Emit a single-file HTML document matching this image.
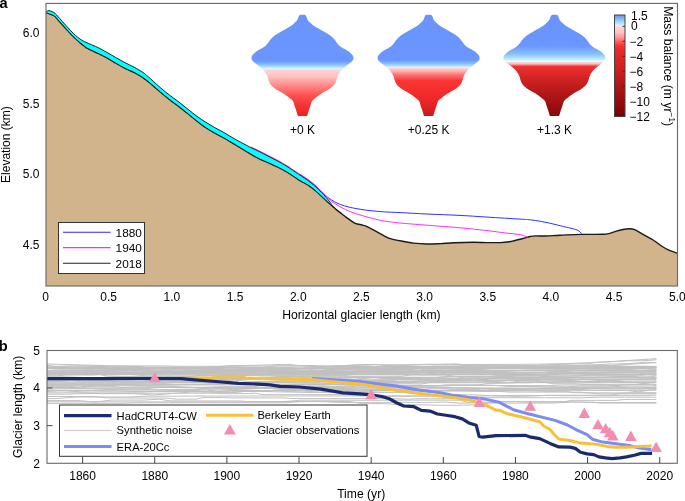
<!DOCTYPE html><html><head><meta charset="utf-8"><style>html,body{margin:0;padding:0;background:#fff;overflow:hidden}svg{display:block;will-change:transform;font-family:"Liberation Sans",sans-serif}</style></head><body>
<svg width="685" height="501" viewBox="0 0 685 501">
<defs><linearGradient id="g1" gradientUnits="userSpaceOnUse" x1="0" y1="14" x2="0" y2="116"><stop offset="0.0000" stop-color="#6a94fc"/><stop offset="0.4608" stop-color="#6a96ff"/><stop offset="0.5000" stop-color="#8cc4fc"/><stop offset="0.5343" stop-color="#d2f6ff"/><stop offset="0.5431" stop-color="#e8faff"/><stop offset="0.5451" stop-color="#ffd2d2"/><stop offset="0.6029" stop-color="#ffc6c6"/><stop offset="0.6961" stop-color="#ff8c8c"/><stop offset="0.7941" stop-color="#ff5252"/><stop offset="0.8922" stop-color="#f43434"/><stop offset="1.0000" stop-color="#ee2222"/></linearGradient><linearGradient id="g2" gradientUnits="userSpaceOnUse" x1="0" y1="14" x2="0" y2="116"><stop offset="0.0000" stop-color="#6a94fc"/><stop offset="0.4510" stop-color="#6a96ff"/><stop offset="0.4902" stop-color="#8cc4fc"/><stop offset="0.5235" stop-color="#d2f6ff"/><stop offset="0.5314" stop-color="#e8faff"/><stop offset="0.5333" stop-color="#ffd2d2"/><stop offset="0.5588" stop-color="#ffb0b0"/><stop offset="0.5980" stop-color="#ff7070"/><stop offset="0.6569" stop-color="#fb3434"/><stop offset="0.8333" stop-color="#ee2828"/><stop offset="0.9314" stop-color="#da2020"/><stop offset="1.0000" stop-color="#c81a1a"/></linearGradient><linearGradient id="g3" gradientUnits="userSpaceOnUse" x1="0" y1="14" x2="0" y2="116"><stop offset="0.0000" stop-color="#6a94fc"/><stop offset="0.3137" stop-color="#6a96ff"/><stop offset="0.3922" stop-color="#88c0f8"/><stop offset="0.4461" stop-color="#c0f0ff"/><stop offset="0.4657" stop-color="#eefaff"/><stop offset="0.4706" stop-color="#ffd8d8"/><stop offset="0.4882" stop-color="#ffbcbc"/><stop offset="0.5147" stop-color="#f03232"/><stop offset="0.6176" stop-color="#d42424"/><stop offset="0.7451" stop-color="#b81a1a"/><stop offset="0.8627" stop-color="#a21212"/><stop offset="1.0000" stop-color="#880808"/></linearGradient><linearGradient id="gcb" x1="0" y1="0" x2="0" y2="1"><stop offset="0" stop-color="#6a8ef2"/><stop offset="0.05" stop-color="#8ec8f8"/><stop offset="0.09" stop-color="#b8eeff"/><stop offset="0.111" stop-color="#eaf8ff"/><stop offset="0.113" stop-color="#ffd4d4"/><stop offset="0.17" stop-color="#ffc6c6"/><stop offset="0.22" stop-color="#ff9696"/><stop offset="0.26" stop-color="#ff6262"/><stop offset="0.3" stop-color="#ff3232"/><stop offset="0.34" stop-color="#f02828"/><stop offset="0.48" stop-color="#dc2020"/><stop offset="0.63" stop-color="#c01818"/><stop offset="0.78" stop-color="#a21010"/><stop offset="0.9" stop-color="#900808"/><stop offset="1" stop-color="#780000"/></linearGradient></defs>
<rect width="685" height="501" fill="#fff"/>
<path d="M46,12.7 C46.33,12.82 47.33,13.17 48,13.4 C48.67,13.63 49.17,13.8 50,14.1 C50.83,14.4 52.23,14.88 53,15.2 C53.77,15.52 54.1,15.62 54.6,16 C55.1,16.38 55.52,16.95 56,17.5 C56.48,18.05 56.5,18.17 57.5,19.3 C58.5,20.43 60.52,22.65 62,24.3 C63.48,25.95 64.92,27.57 66.4,29.2 C67.88,30.83 69.4,32.53 70.9,34.1 C72.4,35.67 73.9,37.18 75.4,38.6 C76.9,40.02 78.4,41.35 79.9,42.6 C81.4,43.85 83.05,45.1 84.4,46.1 C85.75,47.1 85.73,47.4 88,48.6 C90.27,49.8 94.83,51.77 98,53.3 C101.17,54.83 104.02,56.15 107,57.8 C109.98,59.45 112.9,61.45 115.9,63.2 C118.9,64.95 121.98,66.78 125,68.3 C128.02,69.82 131,70.75 134,72.3 C137,73.85 140.02,75.55 143,77.6 C145.98,79.65 148.92,82.12 151.9,84.6 C154.88,87.08 157.88,89.95 160.9,92.5 C163.92,95.05 166.98,97.55 170,99.9 C173.02,102.25 176,104.28 179,106.6 C182,108.92 185.02,111.4 188,113.8 C190.98,116.2 193.92,118.68 196.9,121 C199.88,123.32 202.9,125.68 205.9,127.7 C208.9,129.72 211.88,131.38 214.9,133.1 C217.92,134.82 220.98,136.3 224,138 C227.02,139.7 230.02,141.52 233,143.3 C235.98,145.08 238.92,146.9 241.9,148.7 C244.88,150.5 247.9,152.37 250.9,154.1 C253.9,155.83 256.88,157.62 259.9,159.1 C262.92,160.58 265.98,161.65 269,163 C272.02,164.35 275.02,165.7 278,167.2 C280.98,168.7 283.92,170.23 286.9,172 C289.88,173.77 293.72,176.37 295.9,177.8 C298.08,179.23 297.65,179.18 300,180.6 C302.35,182.02 307,184.25 310,186.3 C313,188.35 315.67,190.85 318,192.9 C320.33,194.95 322,196.73 324,198.6 C326,200.47 328.5,202.77 330,204.1 C331.5,205.43 332,205.72 333,206.6 C334,207.48 334.5,208.17 336,209.4 C337.5,210.63 340.33,212.72 342,214 C343.67,215.28 344.75,216.17 346,217.1 C347.25,218.03 347.95,218.57 349.5,219.6 C351.05,220.63 353.13,222.38 355.3,223.3 C357.47,224.22 360.55,224.55 362.5,225.1 C364.45,225.65 364.75,225.55 367,226.6 C369.25,227.65 373.02,229.78 376,231.4 C378.98,233.02 382.52,235.1 384.9,236.3 C387.28,237.5 387.95,237.88 390.3,238.6 C392.65,239.32 395.13,239.85 399,240.6 C402.87,241.35 408.83,242.53 413.5,243.1 C418.17,243.67 422.52,243.92 427,244 C431.48,244.08 435.92,243.8 440.4,243.6 C444.88,243.4 448.38,243.02 453.9,242.8 C459.42,242.58 467.98,242.33 473.5,242.3 C479.02,242.27 482.52,242.55 487,242.6 C491.48,242.65 496.67,242.73 500.4,242.6 C504.13,242.47 507.15,242.1 509.4,241.8 C511.65,241.5 512.13,241.22 513.9,240.8 C515.67,240.38 518.13,239.8 520,239.3 C521.87,238.8 523.4,238.27 525.1,237.8 C526.8,237.33 528.5,236.82 530.2,236.5 C531.9,236.18 532.75,235.98 535.3,235.9 C537.85,235.82 542.08,236.07 545.5,236 C548.92,235.93 552.38,235.68 555.8,235.5 C559.22,235.32 561.75,235.08 566,234.9 C570.25,234.72 575.12,234.5 581.3,234.4 C587.48,234.3 598.37,234.47 603.1,234.3 C607.83,234.13 607.5,233.93 609.7,233.4 C611.9,232.87 614.1,231.75 616.3,231.1 C618.5,230.45 620.72,229.88 622.9,229.5 C625.08,229.12 627.43,228.77 629.4,228.8 C631.37,228.83 632.5,228.82 634.7,229.7 C636.9,230.58 639.53,232.38 642.6,234.1 C645.67,235.82 649.82,237.93 653.1,240 C656.38,242.07 659.68,244.8 662.3,246.5 C664.92,248.2 666.27,249.07 668.8,250.2 C671.33,251.33 676.05,252.78 677.5,253.3 L677.5,286 L46,286 Z" fill="#d2b48c"/>
<path d="M46,12.7 C46.33,12.82 47.33,13.17 48,13.4 C48.67,13.63 49.17,13.8 50,14.1 C50.83,14.4 52.23,14.88 53,15.2 C53.77,15.52 54.1,15.62 54.6,16 C55.1,16.38 55.52,16.95 56,17.5 C56.48,18.05 56.5,18.17 57.5,19.3 C58.5,20.43 60.52,22.65 62,24.3 C63.48,25.95 64.92,27.57 66.4,29.2 C67.88,30.83 69.4,32.53 70.9,34.1 C72.4,35.67 73.9,37.18 75.4,38.6 C76.9,40.02 78.4,41.35 79.9,42.6 C81.4,43.85 83.05,45.1 84.4,46.1 C85.75,47.1 85.73,47.4 88,48.6 C90.27,49.8 94.83,51.77 98,53.3 C101.17,54.83 104.02,56.15 107,57.8 C109.98,59.45 112.9,61.45 115.9,63.2 C118.9,64.95 121.98,66.78 125,68.3 C128.02,69.82 131,70.75 134,72.3 C137,73.85 140.02,75.55 143,77.6 C145.98,79.65 148.92,82.12 151.9,84.6 C154.88,87.08 157.88,89.95 160.9,92.5 C163.92,95.05 166.98,97.55 170,99.9 C173.02,102.25 176,104.28 179,106.6 C182,108.92 185.02,111.4 188,113.8 C190.98,116.2 193.92,118.68 196.9,121 C199.88,123.32 202.9,125.68 205.9,127.7 C208.9,129.72 211.88,131.38 214.9,133.1 C217.92,134.82 220.98,136.3 224,138 C227.02,139.7 230.02,141.52 233,143.3 C235.98,145.08 238.92,146.9 241.9,148.7 C244.88,150.5 247.9,152.37 250.9,154.1 C253.9,155.83 256.88,157.62 259.9,159.1 C262.92,160.58 265.98,161.65 269,163 C272.02,164.35 275.02,165.7 278,167.2 C280.98,168.7 283.92,170.23 286.9,172 C289.88,173.77 293.72,176.37 295.9,177.8 C298.08,179.23 297.65,179.18 300,180.6 C302.35,182.02 307,184.25 310,186.3 C313,188.35 315.67,190.85 318,192.9 C320.33,194.95 322,196.73 324,198.6 C326,200.47 328.5,202.77 330,204.1 C331.5,205.43 332,205.72 333,206.6 C334,207.48 334.5,208.17 336,209.4 C337.5,210.63 340.33,212.72 342,214 C343.67,215.28 344.75,216.17 346,217.1 C347.25,218.03 347.95,218.57 349.5,219.6 C351.05,220.63 353.13,222.38 355.3,223.3 C357.47,224.22 360.55,224.55 362.5,225.1 C364.45,225.65 364.75,225.55 367,226.6 C369.25,227.65 373.02,229.78 376,231.4 C378.98,233.02 382.52,235.1 384.9,236.3 C387.28,237.5 387.95,237.88 390.3,238.6 C392.65,239.32 395.13,239.85 399,240.6 C402.87,241.35 408.83,242.53 413.5,243.1 C418.17,243.67 422.52,243.92 427,244 C431.48,244.08 435.92,243.8 440.4,243.6 C444.88,243.4 448.38,243.02 453.9,242.8 C459.42,242.58 467.98,242.33 473.5,242.3 C479.02,242.27 482.52,242.55 487,242.6 C491.48,242.65 496.67,242.73 500.4,242.6 C504.13,242.47 507.15,242.1 509.4,241.8 C511.65,241.5 512.13,241.22 513.9,240.8 C515.67,240.38 518.13,239.8 520,239.3 C521.87,238.8 523.4,238.27 525.1,237.8 C526.8,237.33 528.5,236.82 530.2,236.5 C531.9,236.18 532.75,235.98 535.3,235.9 C537.85,235.82 542.08,236.07 545.5,236 C548.92,235.93 552.38,235.68 555.8,235.5 C559.22,235.32 561.75,235.08 566,234.9 C570.25,234.72 575.12,234.5 581.3,234.4 C587.48,234.3 598.37,234.47 603.1,234.3 C607.83,234.13 607.5,233.93 609.7,233.4 C611.9,232.87 614.1,231.75 616.3,231.1 C618.5,230.45 620.72,229.88 622.9,229.5 C625.08,229.12 627.43,228.77 629.4,228.8 C631.37,228.83 632.5,228.82 634.7,229.7 C636.9,230.58 639.53,232.38 642.6,234.1 C645.67,235.82 649.82,237.93 653.1,240 C656.38,242.07 659.68,244.8 662.3,246.5 C664.92,248.2 666.27,249.07 668.8,250.2 C671.33,251.33 676.05,252.78 677.5,253.3" fill="none" stroke="#1a1a1a" stroke-width="1.4"/>
<path d="M46,11.8 C46.07,11.75 45.92,11.7 46.4,11.5 C46.88,11.3 47.95,10.58 48.9,10.6 C49.85,10.62 51.05,11.13 52.1,11.6 C53.15,12.07 54.3,12.67 55.2,13.4 C56.1,14.13 56.37,14.72 57.5,16 C58.63,17.28 60.52,19.43 62,21.1 C63.48,22.77 64.92,24.37 66.4,26 C67.88,27.63 69.4,29.35 70.9,30.9 C72.4,32.45 73.9,33.97 75.4,35.3 C76.9,36.63 78.4,37.85 79.9,38.9 C81.4,39.95 82.9,40.82 84.4,41.6 C85.9,42.38 87.3,42.9 88.9,43.6 C90.5,44.3 92.48,45.13 94,45.8 C95.52,46.47 95.83,46.5 98,47.6 C100.17,48.7 104.02,50.73 107,52.4 C109.98,54.07 112.9,55.88 115.9,57.6 C118.9,59.32 121.98,61.12 125,62.7 C128.02,64.28 131,65.47 134,67.1 C137,68.73 140.77,71.02 143,72.5 C145.23,73.98 145.92,74.75 147.4,76 C148.88,77.25 149.65,77.98 151.9,80 C154.15,82.02 157.9,85.53 160.9,88.1 C163.9,90.67 166.88,93.07 169.9,95.4 C172.92,97.73 175.98,99.78 179,102.1 C182.02,104.42 185.02,106.93 188,109.3 C190.98,111.67 193.92,114.13 196.9,116.3 C199.88,118.47 202.9,120.4 205.9,122.3 C208.9,124.2 211.88,125.98 214.9,127.7 C217.92,129.42 220.98,130.88 224,132.6 C227.02,134.32 230.02,136.28 233,138 C235.98,139.72 238.92,141.3 241.9,142.9 C244.88,144.5 247.9,146.1 250.9,147.6 C253.9,149.1 256.88,150.4 259.9,151.9 C262.92,153.4 265.98,155.05 269,156.6 C272.02,158.15 275.02,159.57 278,161.2 C280.98,162.83 283.92,164.53 286.9,166.4 C289.88,168.27 293.72,170.95 295.9,172.4 C298.08,173.85 297.65,173.5 300,175.1 C302.35,176.7 307,179.72 310,182 C313,184.28 315.48,186.45 318,188.8 C320.52,191.15 323.27,194.08 325.1,196.1 C326.93,198.12 327.88,199.47 329,200.9 C330.12,202.33 331.33,204.07 331.8,204.7 L330,204.1 C329,203.18 326,200.47 324,198.6 C322,196.73 320.33,194.95 318,192.9 C315.67,190.85 313,188.35 310,186.3 C307,184.25 302.35,182.02 300,180.6 C297.65,179.18 298.08,179.23 295.9,177.8 C293.72,176.37 289.88,173.77 286.9,172 C283.92,170.23 280.98,168.7 278,167.2 C275.02,165.7 272.02,164.35 269,163 C265.98,161.65 262.92,160.58 259.9,159.1 C256.88,157.62 253.9,155.83 250.9,154.1 C247.9,152.37 244.88,150.5 241.9,148.7 C238.92,146.9 235.98,145.08 233,143.3 C230.02,141.52 227.02,139.7 224,138 C220.98,136.3 217.92,134.82 214.9,133.1 C211.88,131.38 208.9,129.72 205.9,127.7 C202.9,125.68 199.88,123.32 196.9,121 C193.92,118.68 190.98,116.2 188,113.8 C185.02,111.4 182,108.92 179,106.6 C176,104.28 173.02,102.25 170,99.9 C166.98,97.55 163.92,95.05 160.9,92.5 C157.88,89.95 154.88,87.08 151.9,84.6 C148.92,82.12 145.98,79.65 143,77.6 C140.02,75.55 137,73.85 134,72.3 C131,70.75 128.02,69.82 125,68.3 C121.98,66.78 118.9,64.95 115.9,63.2 C112.9,61.45 109.98,59.45 107,57.8 C104.02,56.15 101.17,54.83 98,53.3 C94.83,51.77 90.27,49.8 88,48.6 C85.73,47.4 85.75,47.1 84.4,46.1 C83.05,45.1 81.4,43.85 79.9,42.6 C78.4,41.35 76.9,40.02 75.4,38.6 C73.9,37.18 72.4,35.67 70.9,34.1 C69.4,32.53 67.88,30.83 66.4,29.2 C64.92,27.57 63.48,25.95 62,24.3 C60.52,22.65 58.5,20.43 57.5,19.3 C56.5,18.17 56.48,18.05 56,17.5 C55.52,16.95 55.1,16.38 54.6,16 C54.1,15.62 53.77,15.52 53,15.2 C52.23,14.88 50.83,14.4 50,14.1 C49.17,13.8 48.67,13.63 48,13.4 C47.33,13.17 46.33,12.82 46,12.7 Z" fill="#00ffff"/>
<path d="M46,12.7 C46.33,12.82 47.33,13.17 48,13.4 C48.67,13.63 49.17,13.8 50,14.1 C50.83,14.4 52.23,14.88 53,15.2 C53.77,15.52 54.1,15.62 54.6,16 C55.1,16.38 55.52,16.95 56,17.5 C56.48,18.05 56.5,18.17 57.5,19.3 C58.5,20.43 60.52,22.65 62,24.3 C63.48,25.95 64.92,27.57 66.4,29.2 C67.88,30.83 69.4,32.53 70.9,34.1 C72.4,35.67 73.9,37.18 75.4,38.6 C76.9,40.02 78.4,41.35 79.9,42.6 C81.4,43.85 83.05,45.1 84.4,46.1 C85.75,47.1 85.73,47.4 88,48.6 C90.27,49.8 94.83,51.77 98,53.3 C101.17,54.83 104.02,56.15 107,57.8 C109.98,59.45 112.9,61.45 115.9,63.2 C118.9,64.95 121.98,66.78 125,68.3 C128.02,69.82 131,70.75 134,72.3 C137,73.85 140.02,75.55 143,77.6 C145.98,79.65 148.92,82.12 151.9,84.6 C154.88,87.08 157.88,89.95 160.9,92.5 C163.92,95.05 166.98,97.55 170,99.9 C173.02,102.25 176,104.28 179,106.6 C182,108.92 185.02,111.4 188,113.8 C190.98,116.2 193.92,118.68 196.9,121 C199.88,123.32 202.9,125.68 205.9,127.7 C208.9,129.72 211.88,131.38 214.9,133.1 C217.92,134.82 220.98,136.3 224,138 C227.02,139.7 230.02,141.52 233,143.3 C235.98,145.08 238.92,146.9 241.9,148.7 C244.88,150.5 247.9,152.37 250.9,154.1 C253.9,155.83 256.88,157.62 259.9,159.1 C262.92,160.58 265.98,161.65 269,163 C272.02,164.35 275.02,165.7 278,167.2 C280.98,168.7 283.92,170.23 286.9,172 C289.88,173.77 293.72,176.37 295.9,177.8 C298.08,179.23 297.65,179.18 300,180.6 C302.35,182.02 307,184.25 310,186.3 C313,188.35 315.67,190.85 318,192.9 C320.33,194.95 322,196.73 324,198.6 C326,200.47 329,203.18 330,204.1" fill="none" stroke="#1a1a1a" stroke-width="0.95"/>
<path d="M300,174.3 C301.67,175.43 307,178.82 310,181.1 C313,183.38 315.48,185.68 318,188 C320.52,190.32 323.17,193.23 325.1,195 C327.03,196.77 328.1,197.52 329.6,198.6 C331.1,199.68 332.3,200.52 334.1,201.5 C335.9,202.48 337.92,203.57 340.4,204.5 C342.88,205.43 346.07,206.37 349,207.1 C351.93,207.83 355,208.37 358,208.9 C361,209.43 364,209.92 367,210.3 C370,210.68 373.02,210.93 376,211.2 C378.98,211.47 380.9,211.67 384.9,211.9 C388.9,212.13 392.98,212.25 400,212.6 C407.02,212.95 417,213.53 427,214 C437,214.47 450,214.88 460,215.4 C470,215.92 477,216.48 487,217.1 C497,217.72 512.8,218.65 520,219.1 C527.2,219.55 526.8,219.43 530.2,219.8 C533.6,220.17 536.98,220.7 540.4,221.3 C543.82,221.9 547.28,222.63 550.7,223.4 C554.12,224.17 557.5,225.08 560.9,225.9 C564.3,226.72 568.38,227.62 571.1,228.3 C573.82,228.98 575.67,229.37 577.2,230 C578.73,230.63 579.53,231.4 580.3,232.1 C581.07,232.8 581.55,233.85 581.8,234.2" fill="none" stroke="#3030ff" stroke-width="1"/>
<path d="M250.9,146.9 C252.4,147.62 256.88,149.7 259.9,151.2 C262.92,152.7 265.98,154.35 269,155.9 C272.02,157.45 275.02,158.87 278,160.5 C280.98,162.13 283.92,163.83 286.9,165.7 C289.88,167.57 293.72,170.27 295.9,171.7 C298.08,173.13 297.65,172.73 300,174.3 C302.35,175.87 307,178.82 310,181.1 C313,183.38 315.48,185.62 318,188 C320.52,190.38 323.02,193.32 325.1,195.4 C327.18,197.48 328.7,199.03 330.5,200.5 C332.3,201.97 333.95,202.97 335.9,204.2 C337.85,205.43 340.02,206.73 342.2,207.9 C344.38,209.07 346.37,210.13 349,211.2 C351.63,212.27 355,213.33 358,214.3 C361,215.27 364,216.17 367,217 C370,217.83 373.02,218.62 376,219.3 C378.98,219.98 380.9,220.48 384.9,221.1 C388.9,221.72 392.98,222.32 400,223 C407.02,223.68 417,224.4 427,225.2 C437,226 450,226.9 460,227.8 C470,228.7 479.52,229.75 487,230.6 C494.48,231.45 499.4,232.23 504.9,232.9 C510.4,233.57 516.63,234.05 520,234.6 C523.37,235.15 523.73,235.75 525.1,236.2 C526.47,236.65 527.68,237.12 528.2,237.3" fill="none" stroke="#ff30ff" stroke-width="1"/>
<path d="M46,11.8 C46.07,11.75 45.92,11.7 46.4,11.5 C46.88,11.3 47.95,10.58 48.9,10.6 C49.85,10.62 51.05,11.13 52.1,11.6 C53.15,12.07 54.3,12.67 55.2,13.4 C56.1,14.13 56.37,14.72 57.5,16 C58.63,17.28 60.52,19.43 62,21.1 C63.48,22.77 64.92,24.37 66.4,26 C67.88,27.63 69.4,29.35 70.9,30.9 C72.4,32.45 73.9,33.97 75.4,35.3 C76.9,36.63 78.4,37.85 79.9,38.9 C81.4,39.95 82.9,40.82 84.4,41.6 C85.9,42.38 87.3,42.9 88.9,43.6 C90.5,44.3 92.48,45.13 94,45.8 C95.52,46.47 95.83,46.5 98,47.6 C100.17,48.7 104.02,50.73 107,52.4 C109.98,54.07 112.9,55.88 115.9,57.6 C118.9,59.32 121.98,61.12 125,62.7 C128.02,64.28 131,65.47 134,67.1 C137,68.73 140.77,71.02 143,72.5 C145.23,73.98 145.92,74.75 147.4,76 C148.88,77.25 149.65,77.98 151.9,80 C154.15,82.02 157.9,85.53 160.9,88.1 C163.9,90.67 166.88,93.07 169.9,95.4 C172.92,97.73 175.98,99.78 179,102.1 C182.02,104.42 185.02,106.93 188,109.3 C190.98,111.67 193.92,114.13 196.9,116.3 C199.88,118.47 202.9,120.4 205.9,122.3 C208.9,124.2 211.88,125.98 214.9,127.7 C217.92,129.42 220.98,130.88 224,132.6 C227.02,134.32 230.02,136.28 233,138 C235.98,139.72 238.92,141.3 241.9,142.9 C244.88,144.5 247.9,146.1 250.9,147.6 C253.9,149.1 256.88,150.4 259.9,151.9 C262.92,153.4 265.98,155.05 269,156.6 C272.02,158.15 275.02,159.57 278,161.2 C280.98,162.83 283.92,164.53 286.9,166.4 C289.88,168.27 293.72,170.95 295.9,172.4 C298.08,173.85 297.65,173.5 300,175.1 C302.35,176.7 307,179.72 310,182 C313,184.28 315.48,186.45 318,188.8 C320.52,191.15 323.27,194.08 325.1,196.1 C326.93,198.12 327.88,199.47 329,200.9 C330.12,202.33 331.33,204.07 331.8,204.7" fill="none" stroke="#1a1a1a" stroke-width="0.95"/>
<rect x="46" y="3.4" width="631.5" height="282.6" fill="none" stroke="#6a6a6a" stroke-width="1.15"/>
<rect x="58.5" y="222.5" width="86" height="51" fill="#fff" stroke="#333" stroke-width="1"/>
<line x1="63" y1="232.3" x2="110.6" y2="232.3" stroke="#2a2aff" stroke-width="1.1"/>
<line x1="63" y1="247.7" x2="110.6" y2="247.7" stroke="#ff2aff" stroke-width="1.3"/>
<line x1="63" y1="263.3" x2="110.6" y2="263.3" stroke="#222" stroke-width="1.1"/>
<g font-size="11.8" fill="#000">
<text x="115.6" y="236.6">1880</text>
<text x="115.6" y="252.0">1940</text>
<text x="115.6" y="267.6">2018</text>
</g>
<path d="M302.5,14.8 C302.1,14.82 300.67,14.77 300.1,14.9 C299.53,15.03 299.42,15.12 299.1,15.6 C298.78,16.08 298.57,16.97 298.2,17.8 C297.83,18.63 297.78,19.5 296.9,20.6 C296.02,21.7 294.55,23.13 292.9,24.4 C291.25,25.67 289,26.97 287,28.2 C285,29.43 282.9,30.62 280.9,31.8 C278.9,32.98 276.73,34.02 275,35.3 C273.27,36.58 271.9,37.93 270.5,39.5 C269.1,41.07 268.02,43.23 266.6,44.7 C265.18,46.17 263.6,47.25 262,48.3 C260.4,49.35 258.5,49.97 257,51 C255.5,52.03 253.9,53.5 253,54.5 C252.1,55.5 251.75,56.05 251.6,57 C251.45,57.95 251.37,59.07 252.1,60.2 C252.83,61.33 254.52,62.53 256,63.8 C257.48,65.07 259.5,66.43 261,67.8 C262.5,69.17 263.92,70.55 265,72 C266.08,73.45 266.92,75.17 267.5,76.5 C268.08,77.83 267.92,78.58 268.5,80 C269.08,81.42 269.67,83.4 271,85 C272.33,86.6 274.42,88.17 276.5,89.6 C278.58,91.03 281.42,92.28 283.5,93.6 C285.58,94.92 287.43,96.27 289,97.5 C290.57,98.73 291.98,99.67 292.9,101 C293.82,102.33 293.9,103.75 294.5,105.5 C295.1,107.25 295.93,109.75 296.5,111.5 C297.07,113.25 297.67,115.25 297.9,116 L307.1,116 C307.33,115.25 307.93,113.25 308.5,111.5 C309.07,109.75 309.9,107.25 310.5,105.5 C311.1,103.75 311.18,102.33 312.1,101 C313.02,99.67 314.43,98.73 316,97.5 C317.57,96.27 319.42,94.92 321.5,93.6 C323.58,92.28 326.42,91.03 328.5,89.6 C330.58,88.17 332.67,86.6 334,85 C335.33,83.4 335.92,81.42 336.5,80 C337.08,78.58 336.92,77.83 337.5,76.5 C338.08,75.17 338.92,73.45 340,72 C341.08,70.55 342.5,69.17 344,67.8 C345.5,66.43 347.52,65.07 349,63.8 C350.48,62.53 352.17,61.33 352.9,60.2 C353.63,59.07 353.55,57.95 353.4,57 C353.25,56.05 352.9,55.5 352,54.5 C351.1,53.5 349.5,52.03 348,51 C346.5,49.97 344.6,49.35 343,48.3 C341.4,47.25 339.82,46.17 338.4,44.7 C336.98,43.23 335.9,41.07 334.5,39.5 C333.1,37.93 331.73,36.58 330,35.3 C328.27,34.02 326.1,32.98 324.1,31.8 C322.1,30.62 320,29.43 318,28.2 C316,26.97 313.75,25.67 312.1,24.4 C310.45,23.13 308.98,21.7 308.1,20.6 C307.22,19.5 307.17,18.63 306.8,17.8 C306.43,16.97 306.22,16.08 305.9,15.6 C305.58,15.12 305.47,15.03 304.9,14.9 C304.33,14.77 302.9,14.82 302.5,14.8 Z" fill="url(#g1)"/>
<text x="302.5" y="133.6" font-size="12" text-anchor="middle">+0 K</text>
<path d="M428.6,14.8 C428.2,14.82 426.77,14.77 426.2,14.9 C425.63,15.03 425.52,15.12 425.2,15.6 C424.88,16.08 424.67,16.97 424.3,17.8 C423.93,18.63 423.88,19.5 423,20.6 C422.12,21.7 420.65,23.13 419,24.4 C417.35,25.67 415.1,26.97 413.1,28.2 C411.1,29.43 409,30.62 407,31.8 C405,32.98 402.83,34.02 401.1,35.3 C399.37,36.58 398,37.93 396.6,39.5 C395.2,41.07 394.12,43.23 392.7,44.7 C391.28,46.17 389.7,47.25 388.1,48.3 C386.5,49.35 384.6,49.97 383.1,51 C381.6,52.03 380,53.5 379.1,54.5 C378.2,55.5 377.85,56.05 377.7,57 C377.55,57.95 377.47,59.07 378.2,60.2 C378.93,61.33 380.62,62.53 382.1,63.8 C383.58,65.07 385.6,66.43 387.1,67.8 C388.6,69.17 390.02,70.55 391.1,72 C392.18,73.45 393.02,75.17 393.6,76.5 C394.18,77.83 394.02,78.58 394.6,80 C395.18,81.42 395.77,83.4 397.1,85 C398.43,86.6 400.52,88.17 402.6,89.6 C404.68,91.03 407.52,92.28 409.6,93.6 C411.68,94.92 413.53,96.27 415.1,97.5 C416.67,98.73 418.08,99.67 419,101 C419.92,102.33 420,103.75 420.6,105.5 C421.2,107.25 422.03,109.75 422.6,111.5 C423.17,113.25 423.77,115.25 424,116 L433.2,116 C433.43,115.25 434.03,113.25 434.6,111.5 C435.17,109.75 436,107.25 436.6,105.5 C437.2,103.75 437.28,102.33 438.2,101 C439.12,99.67 440.53,98.73 442.1,97.5 C443.67,96.27 445.52,94.92 447.6,93.6 C449.68,92.28 452.52,91.03 454.6,89.6 C456.68,88.17 458.77,86.6 460.1,85 C461.43,83.4 462.02,81.42 462.6,80 C463.18,78.58 463.02,77.83 463.6,76.5 C464.18,75.17 465.02,73.45 466.1,72 C467.18,70.55 468.6,69.17 470.1,67.8 C471.6,66.43 473.62,65.07 475.1,63.8 C476.58,62.53 478.27,61.33 479,60.2 C479.73,59.07 479.65,57.95 479.5,57 C479.35,56.05 479,55.5 478.1,54.5 C477.2,53.5 475.6,52.03 474.1,51 C472.6,49.97 470.7,49.35 469.1,48.3 C467.5,47.25 465.92,46.17 464.5,44.7 C463.08,43.23 462,41.07 460.6,39.5 C459.2,37.93 457.83,36.58 456.1,35.3 C454.37,34.02 452.2,32.98 450.2,31.8 C448.2,30.62 446.1,29.43 444.1,28.2 C442.1,26.97 439.85,25.67 438.2,24.4 C436.55,23.13 435.08,21.7 434.2,20.6 C433.32,19.5 433.27,18.63 432.9,17.8 C432.53,16.97 432.32,16.08 432,15.6 C431.68,15.12 431.57,15.03 431,14.9 C430.43,14.77 429,14.82 428.6,14.8 Z" fill="url(#g2)"/>
<text x="428.6" y="133.6" font-size="12" text-anchor="middle">+0.25 K</text>
<path d="M554.5,14.8 C554.1,14.82 552.67,14.77 552.1,14.9 C551.53,15.03 551.42,15.12 551.1,15.6 C550.78,16.08 550.57,16.97 550.2,17.8 C549.83,18.63 549.78,19.5 548.9,20.6 C548.02,21.7 546.55,23.13 544.9,24.4 C543.25,25.67 541,26.97 539,28.2 C537,29.43 534.9,30.62 532.9,31.8 C530.9,32.98 528.73,34.02 527,35.3 C525.27,36.58 523.9,37.93 522.5,39.5 C521.1,41.07 520.02,43.23 518.6,44.7 C517.18,46.17 515.6,47.25 514,48.3 C512.4,49.35 510.5,49.97 509,51 C507.5,52.03 505.9,53.5 505,54.5 C504.1,55.5 503.75,56.05 503.6,57 C503.45,57.95 503.37,59.07 504.1,60.2 C504.83,61.33 506.52,62.53 508,63.8 C509.48,65.07 511.5,66.43 513,67.8 C514.5,69.17 515.92,70.55 517,72 C518.08,73.45 518.92,75.17 519.5,76.5 C520.08,77.83 519.92,78.58 520.5,80 C521.08,81.42 521.67,83.4 523,85 C524.33,86.6 526.42,88.17 528.5,89.6 C530.58,91.03 533.42,92.28 535.5,93.6 C537.58,94.92 539.43,96.27 541,97.5 C542.57,98.73 543.98,99.67 544.9,101 C545.82,102.33 545.9,103.75 546.5,105.5 C547.1,107.25 547.93,109.75 548.5,111.5 C549.07,113.25 549.67,115.25 549.9,116 L559.1,116 C559.33,115.25 559.93,113.25 560.5,111.5 C561.07,109.75 561.9,107.25 562.5,105.5 C563.1,103.75 563.18,102.33 564.1,101 C565.02,99.67 566.43,98.73 568,97.5 C569.57,96.27 571.42,94.92 573.5,93.6 C575.58,92.28 578.42,91.03 580.5,89.6 C582.58,88.17 584.67,86.6 586,85 C587.33,83.4 587.92,81.42 588.5,80 C589.08,78.58 588.92,77.83 589.5,76.5 C590.08,75.17 590.92,73.45 592,72 C593.08,70.55 594.5,69.17 596,67.8 C597.5,66.43 599.52,65.07 601,63.8 C602.48,62.53 604.17,61.33 604.9,60.2 C605.63,59.07 605.55,57.95 605.4,57 C605.25,56.05 604.9,55.5 604,54.5 C603.1,53.5 601.5,52.03 600,51 C598.5,49.97 596.6,49.35 595,48.3 C593.4,47.25 591.82,46.17 590.4,44.7 C588.98,43.23 587.9,41.07 586.5,39.5 C585.1,37.93 583.73,36.58 582,35.3 C580.27,34.02 578.1,32.98 576.1,31.8 C574.1,30.62 572,29.43 570,28.2 C568,26.97 565.75,25.67 564.1,24.4 C562.45,23.13 560.98,21.7 560.1,20.6 C559.22,19.5 559.17,18.63 558.8,17.8 C558.43,16.97 558.22,16.08 557.9,15.6 C557.58,15.12 557.47,15.03 556.9,14.9 C556.33,14.77 554.9,14.82 554.5,14.8 Z" fill="url(#g3)"/>
<text x="554.5" y="133.6" font-size="12" text-anchor="middle">+1.3 K</text>
<rect x="614.5" y="15" width="10.5" height="101.5" fill="url(#gcb)" stroke="#444" stroke-width="1"/>
<line x1="622.5" y1="26.27" x2="625" y2="26.27" stroke="#333" stroke-width="1"/>
<line x1="622.5" y1="41.28" x2="625" y2="41.28" stroke="#333" stroke-width="1"/>
<line x1="622.5" y1="56.30" x2="625" y2="56.30" stroke="#333" stroke-width="1"/>
<line x1="622.5" y1="71.32" x2="625" y2="71.32" stroke="#333" stroke-width="1"/>
<line x1="622.5" y1="86.34" x2="625" y2="86.34" stroke="#333" stroke-width="1"/>
<line x1="622.5" y1="101.36" x2="625" y2="101.36" stroke="#333" stroke-width="1"/>
<g font-size="12" fill="#000">
<text x="631" y="20.4">1.5</text>
<text x="631" y="30.4">0</text>
<text x="629.6" y="46.0">−2</text>
<text x="629.6" y="61.0">−4</text>
<text x="629.6" y="76.0">−6</text>
<text x="629.6" y="91.0">−8</text>
<text x="629.6" y="106.0">−10</text>
<text x="629.6" y="121.0">−12</text>
</g>
<text transform="translate(663.6,6.2) rotate(90)" font-size="12.2">Mass balance (m yr<tspan font-size="8.4" dy="-5.6">−1</tspan><tspan dy="5.6">)</tspan></text>
<g font-size="12" fill="#000" text-anchor="end">
<text x="39.5" y="36.9">6.0</text>
<text x="39.5" y="107.5">5.5</text>
<text x="39.5" y="178.0">5.0</text>
<text x="39.5" y="248.6">4.5</text>
</g>
<g font-size="12" fill="#000" text-anchor="middle">
<text x="45.50" y="301.2">0</text>
<text x="108.68" y="301.2">0.5</text>
<text x="171.86" y="301.2">1.0</text>
<text x="235.04" y="301.2">1.5</text>
<text x="298.22" y="301.2">2.0</text>
<text x="361.40" y="301.2">2.5</text>
<text x="424.58" y="301.2">3.0</text>
<text x="487.76" y="301.2">3.5</text>
<text x="550.94" y="301.2">4.0</text>
<text x="614.12" y="301.2">4.5</text>
<text x="677.30" y="301.2">5.0</text>
<text x="361.4" y="319.3" font-size="12.2">Horizontal glacier length (km)</text>
</g>
<text transform="translate(9.8,144.6) rotate(-90)" font-size="12" text-anchor="middle">Elevation (km)</text>
<text x="-0.6" y="8.1" font-size="14.6" font-weight="bold">a</text>
<g fill="none" stroke="#c0c0c0" stroke-width="1">
<path d="M47,364 L60.24,364.36 L81.03,364.93 L95.15,365.32 L104.11,365.56 L120.18,366.01 L127.69,366.26 L135.14,366.5 L152.24,368.04 L173.67,368.75 L189.52,367.65 L203.97,367.25 L213.85,367.57 L226.89,367.63 L241.2,367.69 L255.2,367.76 L268.51,369.05 L290.44,369.13 L307.77,368.48 L317.44,367 L335.71,366.15 L355.25,364.84 L376.58,364.48 L382.59,365.47 L396.11,365.42 L408.47,365.43 L426.92,364.31 L438.24,364.28 L456.37,363.91 L463.99,364.79 L472.83,364.77 L485.99,365.14 L494.09,365.12 L501.95,365.09 L511.36,365.79 L530.21,365.63 L550.37,364.67 L570.04,364.14 L577.64,363.84 L587.06,363.79 L598.32,362.14 L605.76,361.84 L615.65,361.3 L627.6,360.53 L648.94,359.15 L656.3,358.67"/>
<path d="M47,365.3 L55.93,366.36 L75.01,365.94 L92.84,366.43 L101.99,366.68 L122.1,367.24 L134.84,366.79 L156.25,368.32 L166.36,368.65 L181.9,368.54 L199.43,368.39 L214.38,368.45 L230.21,369.76 L239.47,369.25 L252.6,368.79 L264.5,368.84 L272.61,368.88 L292.86,368.85 L309.37,368.23 L324.72,367.06 L331.01,366.8 L348.23,365.65 L354.57,365.23 L368.28,364.84 L379.39,364.81 L386.59,364.78 L404.38,364.73 L422.17,364.67 L440.87,364.61 L452.5,364.58 L472.91,364.51 L485.58,364.47 L505.4,364.41 L521.4,364.35 L536.72,364.16 L544.01,364.07 L565.9,363.63 L583.55,362.92 L601.31,362.21 L614.36,361.58 L621.7,361.11 L628.18,360.69 L641.87,360.77 L655.83,359.87 L656.3,359.04"/>
<path d="M47,366.6 L57.82,366.9 L67.06,367.96 L83.62,368.41 L103.89,368.97 L120.54,368.97 L139.44,369.6 L159.52,370.27 L174.85,370.78 L183.03,370.96 L202.42,371.05 L219.8,371.13 L230.23,370.94 L240.63,370.77 L256.64,370.84 L267.69,370.89 L289.4,370.99 L296.6,371.53 L303.26,371.28 L318.39,370.72 L337.06,368.81 L350.33,368.71 L360.13,366.97 L376.2,366.92 L392.28,366.87 L411.2,366.81 L428.15,366.96 L437.01,367.05 L454.43,366.66 L465.96,366.63 L480.29,366.58 L498.39,366.53 L517.06,366.47 L524.46,366.4 L542.02,366.35 L558.02,366.15 L570.05,365.72 L590.12,364.92 L611.23,364.04 L627.65,363.61 L646.74,362.38 L656.3,362.49"/>
<path d="M47,367.6 L68.69,368.19 L83.28,368.59 L94.41,368.9 L114.1,369.44 L121.42,369.65 L136.23,370.14 L150.03,371.22 L157.05,371.45 L165.82,371.75 L184.42,371.29 L198.69,371.35 L218.13,371.44 L239.26,371.54 L260.45,371.21 L274.87,372.04 L291.1,372.06 L310.59,371.33 L321.58,370.92 L341.1,369.86 L350.44,369.24 L371.93,368.57 L387.1,368.59 L401.15,368.55 L407.59,368.53 L421.85,368.48 L440.67,368.42 L454.52,368.38 L461.58,368.36 L474.2,368.32 L494.97,368.17 L503.01,368.14 L522.06,368.07 L535.68,367.89 L544.74,367.78 L565.55,367.93 L571.91,366.91 L588.91,366.23 L600.59,365.76 L608.27,365.46 L616.23,364.98 L626.24,364.48 L639.23,363.64 L651.85,362.82 L656.3,362.82"/>
<path d="M47,392.8 L63.22,392.81 L82.84,392.83 L102.54,393.62 L121.51,393.63 L132.57,393.64 L153.33,394.98 L173.53,393.43 L191.16,391.97 L210.47,391.99 L229.11,392.02 L246.07,391.4 L262.99,391.42 L284.49,392 L302.62,392.01 L319.59,391 L327.29,391.88 L341.52,391.89 L349.87,391.35 L369.31,391.37 L390.14,390.58 L411.37,390.6 L429.6,390.61 L443.07,390.62 L455.95,390.63 L462.17,390.64 L481.67,391.38 L499.5,391.4 L508.62,392.07 L514.87,392.07 L533.7,392.09 L553.47,392.1 L565.94,392.11 L580.01,392.12 L598.89,393.85 L616.8,393.86 L635.83,393.88 L656.18,393.89 L656.3,393.89"/>
<path d="M47,394.2 L65.24,394.17 L82.81,393.63 L96.31,393.33 L112.53,393.3 L122.24,393.29 L138.9,393.26 L155.45,393.23 L169.98,393.21 L191.98,393.17 L209.2,393.14 L230.88,393.75 L248.7,393.46 L255.51,393.19 L263.09,394.71 L277.89,394.69 L299.36,394.65 L321.28,394.62 L340.24,394.59 L358.38,395.63 L366.94,395.62 L375.65,395.61 L391.43,396.32 L404.16,396.3 L419.72,396.28 L430.3,396.26 L445.27,395.99 L456,394.3 L462.69,394.83 L474.93,394.81 L492.9,395.89 L514.01,396.3 L526.88,396.28 L548.45,395.32 L569.45,395.28 L582.94,395.26 L602.01,395.23 L609.85,395.22 L623.14,393.08 L637.59,392.94 L654.28,392.91 L656.3,392.91"/>
<path d="M47,396.5 L59.71,396.52 L74.2,396.54 L95.45,396.56 L105.26,397.83 L123.81,397.86 L135.56,398.03 L150.6,398.05 L166.73,398.07 L175.76,399.12 L196.41,399.15 L203.05,397.57 L215.85,397.58 L223.49,397.59 L230.65,397.86 L245.46,397.88 L257.43,397.9 L266.8,397.91 L284.72,397.94 L291.91,398.54 L307.89,398.56 L317.3,398.57 L327.43,398.59 L339.33,398.6 L361.16,398.63 L375.93,398.65 L396.67,398.68 L408.58,399.29 L415.83,398.7 L429.59,398.71 L440.37,398.73 L447.59,398.66 L454.9,398.67 L472.5,398.69 L483.02,397.68 L500.64,397.7 L508.52,397.71 L523.62,397.73 L544.66,397.76 L557.67,397.78 L568.55,397.79 L580.94,397.81 L601.26,397.18 L613.11,397.19 L625.44,397.21 L634.55,397.22 L653.31,397.25 L656.3,397.25"/>
<path d="M47,398.6 L55.83,398.59 L75.92,397.05 L90.17,397.04 L105.25,397.02 L121.67,397.01 L128.69,397 L147.3,396.19 L165.1,396.17 L172.45,396.16 L180.75,396.16 L197.14,396.07 L215.38,396.05 L233.62,396.04 L245.02,396.03 L261.78,396.01 L276.38,396 L293.71,395.99 L306.28,395.98 L322.95,395.96 L341.84,395.95 L362.06,395.93 L378.3,395.92 L395.66,395.9 L408.41,395.89 L416.75,395.89 L438.61,395.87 L447.29,396.46 L457.96,396.46 L464.91,396.45 L472.75,396.44 L491.16,395.66 L504.5,395.65 L525.05,395.28 L534,395.45 L551.48,395.44 L561.06,395.69 L569.82,395.68 L580.81,395.67 L599.88,395.66 L610.05,395.65 L630.68,395.63 L645.44,395.62 L656.3,395.04"/>
<path d="M47,400.6 L68.16,400.61 L80.32,400.62 L94.57,402.19 L111.09,400.09 L124.66,400.09 L143.4,400.1 L159.1,399.2 L170.25,400.9 L184.51,400.91 L206.4,400.94 L214.81,400.95 L220.83,400.95 L240.37,400.96 L247.69,401.56 L255.24,401.57 L268.74,401.57 L284.13,401.58 L294.99,401.59 L307.66,401.59 L315.11,401.6 L324.45,401.6 L338.86,402.37 L349.84,402.37 L357.06,402.38 L370.53,402.38 L382.29,402.39 L389.98,402.39 L403.37,402.4 L422.64,402.41 L428.84,402.41 L446.2,402.06 L459.53,403.2 L478.32,402.74 L488.97,402.74 L503.6,401.56 L515.88,401.56 L525.98,402.05 L537.25,402.06 L552.26,402.07 L563.56,402.07 L571.04,400.35 L587.88,400.36 L596.76,400.36 L616.15,400.37 L623.59,399.46 L631.58,399.46 L638.74,399.46 L651.58,399.47 L656.3,399.47"/>
<path d="M47,403.4 L66.14,403.39 L77.44,403.39 L83.69,403.38 L100.89,403.37 L119.52,403.36 L135.26,402.82 L146.73,402.81 L154.43,402.81 L168.58,402.8 L187.79,402.79 L196.32,402.79 L216.77,402.78 L228.41,402.77 L236.68,402.77 L258.47,402.76 L275.91,402.75 L285.07,402.74 L301.1,401.59 L311.01,401.58 L328.17,401.58 L349.03,401.57 L362.44,403.66 L370.61,403.66 L385.31,403.65 L400.27,404.81 L422.15,404.8 L437.77,405.28 L448.39,405.27 L458.24,405.27 L477.53,404.69 L484.75,403.13 L506.55,403.12 L523.08,403.11 L539.82,403.11 L551.93,403.1 L570.79,402.15 L584.27,402.13 L599.39,402.53 L609.61,402.53 L620.92,402.52 L627.52,402.52 L635.84,402.52 L651.44,402.51 L656.3,402.51"/>
<path d="M47,401.8 L64.03,401.82 L82.06,401.83 L103.97,401.86 L123.65,401.88 L136.59,401.89 L157.08,401.91 L171.48,401.92 L191.95,401.94 L198.82,401.95 L219.22,401.97 L234.78,401.99 L245.66,402 L252.78,401.83 L266.82,401.85 L273.65,401.85 L288.07,401.31 L300.4,400.19 L320.98,400.21 L337.63,400.23 L350.37,400.24 L359.92,400.25 L374.99,400.27 L382.57,400.28 L390.55,400.28 L411.76,400.13 L422.55,400.14 L429.55,400.15 L448.6,400.17 L460.31,400.18 L467.04,402.17 L477.97,402.18 L498.91,402.2 L512.47,401.58 L533.23,401.6 L542.36,401.61 L554.03,401.62 L562.78,401.63 L584.7,402.31 L593.77,402.32 L600.57,403.06 L611.58,403.07 L631.49,403.09 L639.65,403.09 L656.3,403.11"/>
<path d="M47,368.3 L64.37,367.28 L74.14,367.28 L92.78,367.29 L109.38,367.29 L124.81,367.02 L145.64,367.02 L156.07,367.03 L163.51,367.03 L176.56,367.03 L191.05,367.81 L201.6,368.97 L209,369.57 L218.93,369.3 L227.91,369.3 L249.72,368.85 L267.73,368.85 L288.59,368.86 L297.47,368.86 L313.79,368.87 L330.32,368.87 L344.59,368.88 L364.12,368.88 L378.45,368.89 L387.23,368.89 L395.87,368.89 L405.64,368.89 L424.01,368.9 L442.66,368.69 L452.2,368.7 L466.19,368.91 L483.62,368.92 L503.59,367.63 L509.87,367.64 L522.83,367.64 L533.04,367.64 L540.2,367.64 L555.3,367.65 L573.96,366.8 L584.94,366.78 L600.88,366.79 L611.11,366.79 L618.53,366.79 L627.28,366.29 L644.33,366.29 L656.3,366.77"/>
<path d="M47,373.77 L56.46,373.79 L63.14,373.8 L81.32,373.83 L89.63,373.84 L107.55,373.04 L127.79,373.02 L138.56,373.04 L145.78,374.95 L163.99,374.98 L173.67,374.81 L183.54,374.82 L204.46,374.86 L215.85,374.88 L231.63,374.3 L248.02,373.75 L265.14,373.78 L280.59,373.8 L293.99,373.83 L313.48,373.86 L331.98,373.53 L340.92,373.54 L349.54,372.89 L363.02,372.92 L376.18,372.94 L393.04,372.97 L402.32,372.98 L409.48,372.99 L421.29,371.96 L430.2,372.48 L450.98,372.52 L461.27,372.53 L469.73,372.55 L481.49,372.57 L499.06,372.6 L505.39,372.61 L517.54,374.52 L528.74,374.54 L543.05,374.24 L552.86,373.26 L568.39,373.16 L581.18,373.18 L589.35,373.2 L599.52,373.21 L616.18,372.81 L626.66,372.83 L639.15,372.85 L656.3,372.88"/>
<path d="M47,373.32 L53.39,373.32 L68.45,373.33 L90.06,373.87 L110.76,374.29 L127.43,374.29 L147.32,374.38 L154.76,374.38 L167.04,373.65 L178.29,373.65 L188.77,373.23 L202.37,373.8 L212.21,373.13 L224.96,373.47 L242.19,373.47 L259.39,373.08 L271.22,372.87 L278.09,372.87 L293.47,372.88 L304.67,371.52 L316.23,371.52 L331.28,372.7 L340.26,372.7 L356.1,372.71 L367.9,372.71 L388.98,372.71 L405.02,372.71 L417.59,372.71 L428.01,372.71 L448.09,372.72 L468.64,371.78 L482.75,371.78 L494.52,371.79 L502.92,371.48 L519.8,370.55 L534.5,370.55 L544.33,370.55 L560.73,370.55 L576.72,370.55 L596.02,370.56 L607.36,370.56 L627.54,370.56 L644.99,370.56 L656.3,370.56"/>
<path d="M47,386.38 L55.55,386.38 L69.4,386.39 L81.31,387.19 L95.86,386.12 L107.06,386.27 L115.07,384.94 L122.71,384.95 L130.51,384.95 L148.87,384.96 L157.47,384.97 L177.39,384.71 L191.51,384.71 L203.78,384.72 L213.81,384.73 L225.04,384.73 L243.19,384.74 L262.45,384.75 L275.17,384.76 L291.14,384.77 L309.96,385 L326.67,384.53 L332.89,384.53 L353.95,384.55 L362.09,384.55 L374.8,384.56 L387.14,384.56 L408.96,385.96 L416.86,385.5 L434.56,385.51 L442.48,385.51 L448.91,385.51 L462.63,385.52 L473.58,385.53 L493,385.57 L508.88,385.58 L530.58,385.59 L547.69,385.6 L566.49,384.94 L574.2,384.95 L584.22,384.95 L592.15,384.96 L598.46,384.96 L606.76,384.96 L617.14,385.52 L628.99,384.5 L636.02,384.5 L646.97,384.26 L656.3,384.27"/>
<path d="M47,370.33 L59.63,370.35 L71.97,370.53 L88.48,370.56 L98.91,370.57 L118.75,370.6 L131.84,370.62 L149.44,369.08 L158.14,368.22 L169.88,368.24 L180.84,368.26 L187.01,370.53 L193.18,370.54 L212.15,370.57 L229.91,370.6 L248.76,370.63 L267.05,370.66 L274.66,370.67 L287.1,370.69 L297.1,370.7 L303.48,370.71 L313.11,370.73 L325.02,370.74 L344,370.77 L360.2,370.8 L370.67,370.81 L381.82,370.31 L399.68,371.3 L414.42,371.32 L423.26,370.04 L434.87,370.06 L441.02,370.07 L453.47,370.09 L468.06,370.11 L477.34,370.12 L488.47,370.14 L496.21,370.15 L509.09,370.17 L518.6,370.19 L535.9,369.79 L552.74,369.82 L563.89,369.83 L585.72,370.74 L597.77,370.76 L607.17,370.78 L627.37,370.81 L643.43,370.83 L656.3,372.07"/>
<path d="M47,382.34 L60.25,382.32 L72.96,382.3 L82.64,382.28 L97.81,382.26 L104.32,382.25 L117.47,382.22 L132.98,382.2 L141.41,382.18 L163.3,382.15 L174.31,382.13 L196.14,382.09 L216.02,383.63 L229.88,384.14 L246.26,384.11 L265.53,384.08 L279.72,384.06 L286.75,384.05 L304.14,384.26 L317.41,384.24 L337.25,382.68 L353.55,382.54 L372.15,382.51 L382.02,382.49 L401.7,382.46 L416.49,382.43 L435.23,381.72 L442.84,381.2 L462.68,381.17 L470.56,380.97 L490.14,380.93 L510.57,382.69 L519.88,382.68 L539.9,382.64 L549.06,382.63 L561.95,381.7 L572.99,381.68 L583.45,381.66 L600.57,380.37 L617.67,380.34 L625.73,382.1 L641.5,382.07 L650.63,382.06 L656.3,382.05"/>
<path d="M47,373.68 L55.34,373.67 L68.14,373.66 L80.68,373.65 L94.78,373.64 L106.33,373.63 L116.09,373.62 L126.64,373.62 L137.23,373.61 L154.05,373.6 L174.99,373.58 L192.89,373.57 L206.06,373.3 L216.56,373.29 L237.83,373.99 L254.59,373.53 L262.7,373.53 L272.73,373.52 L284.19,373.51 L303.8,373.5 L318.53,374.75 L325.95,374.75 L337.94,374.74 L354.65,374.72 L375.01,374.71 L381.38,374.7 L394.89,374.69 L408.33,374.68 L425.06,374.67 L446.59,374.66 L468.47,374.64 L487.73,374.62 L504.95,374.61 L512.01,374.61 L524.43,374.6 L533.92,374.59 L543.27,374.58 L551.56,374.58 L569.43,373.05 L585.81,373.04 L603.68,374.1 L621.38,374.09 L629.29,374.08 L635.54,374.08 L656.3,374.06"/>
<path d="M47,367.66 L58.62,367.68 L73.16,368.64 L83.98,368.66 L91.97,368.67 L100.05,368.4 L110.75,368.42 L120.7,368.44 L127.57,368.07 L142.5,368.1 L162.11,369.17 L170.59,369.18 L184.99,369.21 L200.78,369.24 L222.21,369.28 L228.38,369.86 L246.13,369.89 L254.63,369.91 L261.09,368.63 L282.55,368.67 L302.11,368.24 L309.36,366.98 L330.07,367.02 L343.89,367.04 L364.08,367.08 L379.16,367.11 L399.63,367.15 L410.41,367.17 L420.55,367.19 L433.42,367.21 L445.15,367.23 L458.36,368.74 L465.35,368.76 L480.11,368.78 L489.68,368.28 L500.71,368.3 L510.39,368.32 L524.19,368.12 L545.65,368.61 L567.02,368.65 L582.59,368.68 L593.41,368.7 L608.84,368.73 L622.8,368.76 L640.86,367.48 L650.9,368.9 L656.3,368.91"/>
<path d="M47,374.67 L54.37,374.66 L73.67,374.65 L84.75,374.64 L103.36,374.63 L110.27,374.62 L117.04,374.62 L131.87,374.61 L148.09,375.99 L166.13,375.98 L172.22,375.97 L184.92,375.96 L206.66,375.95 L213.85,375.95 L226.9,375.94 L238.95,375.93 L251.94,374.86 L269.69,373.5 L289.04,373.49 L303.81,372.61 L314.77,372.61 L329.73,372.6 L339.11,372.59 L353.69,372.58 L361.67,372.58 L375.22,373.01 L387.26,373 L408.12,372.99 L425.15,372.97 L443.61,374.24 L452.27,374.24 L461.5,374.23 L470.13,374.22 L485.59,374.21 L497.8,374.21 L517.28,374.19 L532.62,374.18 L554.31,374.17 L571.47,373.45 L589.16,373.44 L599.27,374.78 L611.31,374.77 L624.24,374.76 L639.19,374.75 L656.3,374.74"/>
<path d="M47,376.77 L56.7,376.8 L64.34,376.82 L83.9,377.51 L98.99,377.56 L110.31,378.81 L128.55,378.86 L136.11,378.88 L145.61,378.37 L161.37,378.81 L176.69,378.85 L197.47,378.91 L209.29,378.95 L226.79,379.54 L244.42,378 L250.75,378.02 L260.8,377.03 L268.91,377.05 L279.27,376.5 L293.42,376.54 L301.98,376.56 L321.65,376.62 L336.35,376.66 L350.91,376.71 L371.62,376.77 L381.77,378.52 L393.58,378.56 L403.31,378.59 L415.24,378.62 L436.34,378.68 L451.39,378.72 L461.11,378.75 L468.87,378.78 L485.39,379.84 L493.02,379.86 L500.93,379.88 L511.88,379.91 L518.87,379.93 L525.95,379.55 L547.68,379.61 L567.36,379.67 L581.7,379.31 L590.65,379.34 L602.32,379.37 L611.48,379.4 L624.16,379.44 L631.42,379.46 L646.34,379.5 L656.3,378.54"/>
<path d="M47,373.11 L68.62,373.08 L89.42,373.05 L110.38,372.99 L125.83,372.97 L141.64,372.95 L162.57,372.99 L183.92,371.71 L203.82,371.68 L210.21,373.15 L227.22,373.13 L242.51,373.11 L261.43,371.6 L280.14,371.58 L299.47,371.55 L310.84,371.54 L317.08,371.53 L327.28,371.51 L341.69,371.49 L358.49,371.47 L368.24,371.46 L377.05,371.08 L390.72,371.06 L402.04,372.09 L412.21,372.08 L422.29,372.06 L431.24,371.6 L442.51,371.59 L459.3,371.56 L473.94,372.73 L483.85,372.37 L505.69,372.34 L517.39,372.32 L539.24,372.29 L547.41,372.28 L565.92,372.25 L584.57,372.23 L595.16,372.21 L613.03,372.19 L632.12,372.21 L644.21,373.55 L652.5,374.31 L656.3,374.3"/>
<path d="M47,373.25 L67.89,373.85 L89.02,372.35 L105.87,372.27 L123.5,372.19 L136.76,372.13 L144.68,373.76 L151.82,372.91 L158.61,372.88 L167.54,372.88 L182.18,372.82 L200.38,372.74 L221.53,371.7 L228.76,371.67 L246.93,371.58 L260.99,371.25 L276.09,372.49 L297.65,372.39 L313.3,372.32 L326.74,373.6 L348.39,373.78 L360.79,372 L369.56,371.96 L378.95,370.97 L397.73,370.89 L414.18,370.81 L423.1,370.43 L429.77,371.18 L441.68,371.13 L457.66,371.06 L469.36,371.01 L484.66,370.94 L499.3,370.87 L510.62,370.82 L520.35,370.78 L540,370.69 L548.6,370.65 L570.36,369.63 L587.93,370.27 L596.45,370.24 L607,370.99 L618.55,370.94 L632.51,370.88 L646.73,370.81 L652.76,370.79 L656.3,370.77"/>
<path d="M47,380.68 L60.96,380.67 L77.22,380.66 L87.7,380.65 L95.06,380.64 L104.81,380.64 L123.58,381.91 L137.64,381.9 L152.52,381.88 L166.36,381.87 L177.01,381.86 L191.06,381.85 L200.2,382.46 L219.06,382.45 L239.73,382.43 L258.49,382.41 L277.44,382.4 L286.26,382.39 L297.12,383.06 L303.48,383.05 L314.97,383.04 L330.74,383.03 L351.66,383.01 L358.69,383.01 L366.44,383 L386.38,382.98 L395.36,382.98 L413.49,382.96 L429.46,382.77 L436.39,382.76 L454.69,382.75 L474.67,382.73 L495.76,382.71 L509.63,382.7 L521.29,380.77 L540.02,381.08 L558.42,381.06 L572.68,381.05 L583.04,381.23 L600.02,381.22 L611.31,381.21 L631.9,382.29 L647.81,382.28 L656.3,382.27"/>
<path d="M47,371.88 L61.36,371.88 L67.93,371.88 L82.49,371.89 L100.41,370.93 L115.7,370.72 L122.82,370.67 L137.25,370.67 L153.48,370.67 L165.99,371.02 L187.34,371.12 L204.31,371.12 L219.19,371.13 L240.2,371.13 L250.22,371.13 L272.18,371.14 L281.21,371.14 L288.12,371.58 L298.48,371.58 L316.11,371.58 L334.38,371.59 L351.68,371.59 L364.6,371.64 L385.87,371.64 L392.77,371.01 L409.88,371.01 L417.93,371.02 L433.1,371.02 L445.55,371.02 L462.45,371.03 L469.19,371.03 L477.25,371.27 L483.52,371.17 L497.01,372.9 L516.65,372.91 L532.05,372.91 L553.79,371.96 L563.32,371.96 L577.46,371.96 L589.85,371.97 L599.96,371.97 L617.29,371.97 L629.15,371.98 L642.4,371.98 L656.3,371.98"/>
<path d="M47,372.4 L60.58,372.41 L73.85,372.41 L94.22,372.42 L112.79,372.42 L129.53,372.43 L140.27,372.43 L161.47,372.44 L178.17,372.44 L194.62,373.31 L209.25,373.32 L220.71,373.32 L226.98,373.32 L245.24,373.39 L254.78,373.39 L276.68,374.4 L283.63,374.4 L302.77,374.4 L315.03,374.41 L332.43,374.41 L350.37,374.42 L360.4,374.42 L375.38,374.43 L397.17,374.66 L408.37,374.66 L429.58,374.13 L444.03,374.14 L452.7,374.14 L473,374.15 L483.62,374.15 L496.34,373.93 L509.71,373.93 L531.57,373.94 L552.82,373.95 L570.97,372.83 L588.04,372.83 L607.29,372.84 L617.67,372.84 L632.27,372.35 L648.78,371.83 L656.3,371.84"/>
<path d="M47,371.26 L55.85,369.92 L74.55,369.88 L84.78,369.86 L101.91,371.31 L121.66,371.86 L138.85,371.82 L158.9,371.43 L169.92,371.41 L188.92,371.37 L204.67,371.33 L214.24,371.55 L222.65,371.53 L234.11,371.51 L247.01,371.48 L267.65,371.44 L276.39,371.42 L293.7,372.38 L313.65,371.33 L323.31,371.31 L330.07,371.29 L337.07,371.28 L351.76,371.25 L359.28,370.54 L381.04,370.49 L400.84,369.19 L407.17,369.18 L415.99,370.15 L433.12,370.12 L446.6,370.4 L458.29,370.37 L468.28,369.59 L474.54,369.57 L490.01,368.57 L509.54,368.53 L523.73,368.5 L543.93,368.46 L559.89,368.42 L576.97,368.39 L589.58,368.36 L603.64,368.33 L618.11,368.3 L636.72,368.26 L646.31,368.21 L652.82,368.2 L656.3,367.82"/>
<path d="M47,387.76 L64.07,387.78 L77.34,387.8 L92.19,387.83 L114.05,387.86 L133.42,387.08 L154.95,387.11 L169.19,387.14 L188.98,387.17 L210.83,389.06 L217.04,388.35 L233.27,388.46 L254.3,388.49 L272.5,388.52 L287.82,388.28 L308.22,388.31 L317.69,388.33 L332.39,388.35 L347.63,388.37 L353.92,388.83 L363.35,389.47 L374.69,389.49 L389.63,389.52 L399.83,389.54 L417.41,389.56 L424.33,390.1 L432.58,387.99 L441.19,388 L462.52,388.04 L472.67,388.05 L481.62,388.06 L497.47,388.09 L504.16,388.1 L516.29,388.12 L526.33,388.13 L535.29,388.15 L556.78,387.6 L577.46,387.63 L584.52,387.13 L595.16,387.15 L612.37,387.17 L629.08,387.2 L641.21,387.22 L655.11,387.72 L656.3,387.72"/>
<path d="M47,367.91 L53.45,367.9 L65.39,367.87 L73.76,367.85 L94.4,367.79 L108.39,367.76 L123.43,366.73 L141.03,368.2 L147.56,367.89 L167.07,367.84 L185,367.8 L202.56,368.71 L210.92,366.79 L217.37,366.77 L229.47,365.54 L249.01,365.49 L269.67,364.86 L280.26,364.46 L289.47,364.44 L298.16,365.53 L310.17,366.33 L324.29,366.29 L337.88,366.94 L346.98,366.92 L353.12,366.9 L368.53,366.87 L383.2,366.83 L391.31,366.81 L408.64,366.76 L425.95,366.72 L432.6,366.12 L450.6,366.07 L467.8,366.03 L476.77,366 L496.41,365.95 L504.22,365.93 L522.06,365.89 L533.86,365.86 L555.2,365.8 L570.43,365.76 L592.42,365.71 L608.91,365.67 L617.21,365.64 L632.23,366.79 L639.23,366.77 L649.7,366.74 L656.3,366.43"/>
<path d="M47,387.4 L58.85,387.42 L67.89,387.43 L77.06,387.45 L88.5,385.87 L94.53,385.88 L104.93,385.89 L121.13,387.17 L130.85,387.18 L148.41,387.21 L169.38,387.24 L180.46,387.26 L191.47,387.27 L204.87,387.29 L213.31,387.31 L234.77,387.83 L243.37,387.52 L252.3,387.53 L267.46,387.56 L288.94,386.37 L295.52,386.38 L314.71,386.41 L329.47,386.43 L341.43,387.39 L347.84,386.06 L356.42,386.8 L364.47,386.82 L383.66,386.84 L391.58,386.86 L409.24,386.88 L424.11,386.91 L443.92,386.94 L465.51,388.22 L481.64,388.25 L487.81,388.26 L498.03,388.27 L512.18,388.29 L519.12,388.58 L536.03,388.61 L554.71,388.33 L568.81,388.36 L581.12,388.38 L594.86,388.4 L608.54,388.42 L630.53,388.07 L637.8,388.09 L646.21,387.93 L656.3,387.95"/>
<path d="M47,375.7 L57.72,375.7 L77.94,374.13 L98.11,374.13 L106.22,375.93 L124.21,376.4 L133.63,376.4 L149.31,377.54 L160.68,377.79 L168.42,377.54 L181.94,377.54 L200.59,375.43 L216.25,375.43 L227.07,375.43 L236.4,375.42 L243.58,375.42 L264.76,375.42 L275.88,375.42 L296.34,375.42 L302.99,375.42 L311.23,375.42 L332.43,375.41 L342.41,375.41 L353.49,376.28 L371.64,376.28 L384.36,376.27 L402.01,376.27 L409.9,375 L429.12,374.99 L445.43,374.99 L457.33,376.74 L473.02,377 L488.59,377 L506.91,377 L526.93,377 L539.44,377 L551.43,376.99 L563.29,376.99 L574.93,376.99 L594.47,376.99 L611.29,376.99 L623.47,376.98 L633.49,376.98 L641.1,376.98 L656.3,376.98"/>
<path d="M47,374.1 L63.21,374.11 L70.55,374.94 L80.17,374.95 L91.81,374.96 L101.04,374.44 L111.49,374.45 L117.97,374.45 L136.82,374.47 L145.88,373.02 L164.55,373.03 L170.8,373.04 L186.37,373.05 L192.93,373.06 L204.59,373.06 L216.35,373.07 L236.23,373.09 L244.25,373.1 L251.69,373.1 L259.25,373.23 L267.75,373.24 L283,373.25 L304.3,373.26 L320.63,373.28 L339.08,373.29 L347.61,373.3 L360.22,373.31 L377.63,373.32 L392.75,373.34 L411.95,372.58 L418.71,374.69 L429.66,374.7 L443.1,374.71 L453.58,374.72 L464.88,374.73 L483.74,374.79 L491.23,374.8 L498.34,375.54 L513.79,375.56 L526.4,375.57 L535.65,375.57 L545.77,375.58 L553.48,374.24 L568,374.25 L574.05,374.26 L593.42,374.27 L601.96,374.28 L623.59,375.21 L642.68,375.23 L652.02,373.93 L656.3,373.94"/>
<path d="M47,389.07 L60.58,388.61 L70.44,388.61 L87.96,388.63 L100.95,388.64 L114.44,388.65 L127.72,388.66 L145.1,388.67 L160.17,387.39 L172.36,387.4 L178.88,387.78 L199.96,387.8 L206.44,387.8 L218.34,387.81 L226.53,387.82 L245.96,387.83 L254.78,386.77 L273.03,388.36 L291.68,387.68 L302.72,387.69 L320.51,387.7 L333.74,387.71 L347.29,387.72 L357.48,387.73 L378.2,387.75 L399.55,387.76 L408.28,387.77 L417.49,387.77 L425.43,387.78 L438.51,387.79 L455.4,389.62 L475.24,389.64 L482.05,388.89 L494.76,388.9 L510.28,388.91 L517.42,389.83 L528.87,388.29 L535.68,388.3 L550.42,388.31 L565.46,387.17 L582.25,387.18 L596.11,387.19 L606.43,387.35 L617.2,386.59 L630.89,388.83 L642.66,388.84 L656.3,387.81"/>
<path d="M47,385.18 L58.5,385.16 L72.55,385.13 L91.92,385.08 L109.54,385.05 L122.92,385.02 L138.19,384.98 L157.29,384.94 L164.12,384.93 L179.98,384.89 L200.52,384.77 L212.52,384.74 L221.16,384.73 L229.47,384.71 L243.29,384.68 L254.2,384.65 L260.32,385.42 L280.38,385.37 L290.78,385.78 L308.48,386.74 L322.93,385.9 L334.34,386.65 L355.29,385.7 L365.67,385.68 L373.43,385.66 L385.99,385.63 L398.95,385.6 L420,385.56 L440.51,385.51 L450.17,384.95 L466.46,384.92 L478.05,384.89 L489.05,383.33 L498.4,383.31 L517.86,382.74 L527.73,382.72 L548.1,381.9 L569.57,381.86 L587.03,381.82 L604.98,381.78 L619.13,382.6 L635.73,382.56 L651.95,384.51 L656.3,385.75"/>
<path d="M47,390.36 L67.8,390.35 L87.38,390.33 L102.45,391.06 L121.82,391.04 L128.52,391.52 L142.32,391.51 L164.17,391.49 L180.98,391.48 L198.08,391.46 L214.31,392.3 L231.89,392.29 L245.29,391.4 L262.18,391.38 L269.91,390.63 L279.83,389.58 L292.48,389.57 L313.09,389.55 L319.42,389.54 L335.17,389.53 L350.98,389.52 L362.41,390.24 L369.28,390.24 L389.85,390.22 L405.55,390.21 L426.91,390.19 L448.75,390.18 L454.98,390.17 L471.2,390.16 L486.99,390.15 L493.07,390.14 L509.06,390.13 L524.56,390.12 L542.91,390.1 L556.31,390.09 L568.66,389.48 L580.28,389.47 L592.6,390.23 L600.16,390.23 L612.48,390.42 L625.24,390.41 L636.67,390.4 L645.8,390.4 L655.42,389.57 L656.3,389.64"/>
<path d="M47,377.74 L54.05,377.74 L64.6,377.73 L82.92,377.73 L98.44,377.73 L116.3,376.54 L134.26,376.53 L156.09,376.53 L164.62,376.53 L180.6,376.52 L188.76,376.52 L202.92,378.47 L215.08,378.74 L225.23,377.74 L240.95,377.74 L257.58,377.73 L279.43,377.73 L300.18,378.74 L307.61,378.74 L314.82,379.8 L322.85,379.8 L337.29,379.99 L344.26,379.99 L363.36,379.98 L376.5,379.81 L383.12,379.81 L403.93,379.8 L411.79,379.8 L429.02,379.79 L447.36,379.79 L459.98,379.79 L470.39,380.28 L481.98,380.27 L493.85,377.75 L515.27,377.75 L536.98,377.74 L543.98,376.25 L559.77,376.25 L581.06,375.87 L590.6,374.97 L604.5,374.96 L616.39,374.96 L627.41,374.96 L641.93,374.37 L656.3,374.37"/>
<path d="M47,367.93 L64.23,368.57 L83.56,368.62 L93.48,369.93 L114.13,369.98 L128.78,368.94 L149.34,368.05 L156.02,368.07 L167.68,367.68 L176.94,367.7 L192.8,367.74 L200.34,367.76 L207.24,367.78 L226.16,369.04 L236.07,369.07 L254.75,369.05 L269.33,369.09 L290.5,369.14 L300.08,368.89 L310.58,368.91 L318.01,368.93 L330.68,367.63 L351.64,367.68 L371.74,367.73 L393.49,368.85 L414.56,367.29 L422.58,368.82 L438.28,368.86 L446.11,368.87 L454.31,369.2 L470.6,369.24 L489.83,368.56 L498.13,368.58 L504.58,368.6 L521.49,368.64 L535.31,368.67 L554.66,368.72 L573.56,368.43 L580.46,368.44 L594.03,368.48 L604.67,368.5 L624.53,368.55 L642.64,368.59 L656.3,369.27"/>
<path d="M47,368.09 L61.09,368.28 L68.14,368.27 L75.42,368.25 L94.51,368.21 L114.16,368.17 L127.22,368.99 L142.34,368.96 L150.66,368.94 L157.67,367.2 L170.47,368.45 L186.23,368.42 L201.08,367.45 L220.51,367.41 L236.85,367.37 L243.62,367.25 L263.13,367.21 L278.59,365.87 L293.53,365.84 L314.42,365.45 L320.68,367.14 L340.62,365.67 L355.84,366.63 L376.42,366.59 L386.9,366.57 L397.54,366.54 L407.67,366.52 L424.52,366.48 L436.05,366.46 L451.37,367.17 L462.34,365.69 L478.1,364.9 L496.53,366.47 L506.9,366.45 L527.82,366.4 L547.17,366.36 L562.83,366.33 L578.79,366.29 L589.97,366.27 L605.09,366.92 L624.91,366.87 L634.51,366.42 L647.46,366.39 L656.3,366.37"/>
<path d="M47,379.95 L61.85,379.89 L76.77,379.82 L86.55,379.59 L106.73,379.5 L117.42,379.45 L131.72,379.39 L140.57,379.35 L147.93,378.68 L157.18,377.59 L171.56,378.64 L187.16,378.57 L200.85,378.51 L211.58,378.47 L228.6,379.41 L243.96,379.34 L259.82,379.27 L278.12,378.7 L291.03,378.64 L308.54,380.1 L330.25,380.01 L352.18,379.91 L364.34,377.87 L379.8,377.8 L395.65,377.73 L408.63,377.67 L424.29,377.6 L439.07,377.54 L454.03,378.28 L471.29,378.21 L492.8,378.11 L501.47,378.07 L513.19,379.23 L522.03,379.19 L530.75,379.15 L552.7,379.75 L558.8,379.72 L579.33,379.63 L595.53,379.56 L604.15,379.52 L617.21,379.47 L625.04,379.43 L638.58,379.37 L656.3,379.3"/>
<path d="M47,372.84 L57.34,372.86 L77.22,373.39 L91.02,372.17 L100.73,372.19 L113.48,372.22 L123.8,372.25 L137.38,372.29 L156.25,374.13 L170.99,374.17 L181.07,374.2 L194.05,374.23 L204.15,374.26 L214.38,374.28 L227.4,374.32 L242.64,374.35 L257.4,374.39 L278.6,374.45 L286.08,374.47 L292.33,375.14 L302.74,373.55 L316.66,373.58 L322.98,372.02 L329.84,372.04 L343.69,372.07 L360.06,372.11 L375.51,372.15 L392.29,372.32 L405.96,374.2 L419.69,374.05 L438.57,374.29 L446.04,373.15 L460.12,373.19 L469.76,373.21 L485.14,373.25 L507.07,373.31 L529.01,373.36 L543.16,372.32 L559.49,371.5 L566.84,371.51 L575.97,373.32 L589.11,374.23 L611.03,374.29 L624.15,374.32 L641.4,374.37 L656.3,375.3"/>
<path d="M47,368.65 L55.05,368.64 L64.01,368.64 L74.55,368.63 L87.48,368.62 L108.6,368.6 L126.9,368.59 L139.29,369.09 L160.03,369.07 L171.1,369.06 L182.81,369.06 L201.17,368.8 L215.36,369.44 L225.42,369.43 L235.38,369.43 L248.28,369.42 L261.08,369.41 L275.9,369.05 L285.95,370.28 L299.62,370.27 L308.12,370.26 L316.01,368.43 L322.41,368.42 L343.84,368.41 L350.04,368.4 L366.65,369.25 L373.73,369.84 L392.01,369.35 L410.81,369.34 L425.21,367.61 L434.22,367.6 L449.76,367.59 L465.93,367.58 L482.26,367.57 L501.74,367.55 L521.82,367.54 L541.07,367.52 L558.11,367.51 L568.07,368.28 L578.04,368.27 L592.83,368.26 L605.7,367.62 L622.85,367.61 L633.95,367.6 L647.11,367.59 L656.3,367.58"/>
<path d="M47,384.65 L68.55,384.67 L81.7,384.69 L92.72,384.7 L105.4,384.71 L119.72,384.73 L125.89,384.66 L147.11,386 L168.67,386.03 L179.14,386.82 L186.24,387.53 L203.01,387.55 L222.35,386.63 L229.86,386.64 L243.8,386.65 L254.43,386.67 L262.68,384.64 L277.97,384.66 L295.38,384.68 L316.37,384.7 L331.47,384.72 L340.34,384.98 L355.93,385 L372.8,386.44 L386.28,386.8 L402.33,386.82 L417.15,386.12 L430.61,386.14 L445.9,385 L453.79,385.13 L471.59,385.15 L492.03,385.17 L508.56,386.46 L520.13,386.47 L530.04,386.49 L546.97,386.8 L555.45,386.81 L567.51,386.82 L579.3,385.96 L586.79,385.97 L598.46,385.98 L611.3,386 L631.37,386.02 L650.83,386.05 L656.3,386.05"/>
<path d="M47,379.6 L54.11,379.58 L65.35,379.54 L71.47,379.53 L78.66,379.5 L92.42,379.46 L108.54,379.95 L118.3,379.92 L130.92,379.88 L144.1,379.05 L165.42,378.99 L175.31,378.96 L192.03,378.91 L199.3,378.89 L216.87,378.83 L233.93,378.78 L241.41,377.82 L252.27,377.53 L260.1,378.1 L278.23,377.05 L295.88,376.5 L309.73,378.2 L323.83,378.16 L335.81,379.37 L348.05,379.33 L355.74,379.31 L370.38,377.68 L391.34,377.62 L413.34,377.56 L431.07,377.5 L444.71,378.25 L457.8,378.22 L464.47,377.02 L482.68,376.96 L493.26,376.93 L507.59,377.02 L513.62,375.94 L535.01,375.88 L549.71,375.84 L564.35,375.79 L572.02,375.77 L587.8,375.72 L604.24,375.68 L620.72,376.39 L633.57,376.35 L640.45,377.55 L649.1,377.53 L656.3,377.51"/>
<path d="M47,383.64 L59.2,383.65 L77.28,383.56 L87.62,383.57 L105.34,383.58 L119.46,383.59 L126.72,383.59 L147.6,383.61 L161.44,383.62 L174.03,382.69 L192.74,382.7 L199.36,382.71 L218.65,382.72 L227.53,382.73 L236.45,382.73 L249.81,382.36 L258.79,381.39 L275.12,381.4 L285.14,381.41 L297.91,381.42 L318.75,381.43 L332.21,381.44 L350.05,381.45 L357.17,381.46 L375.13,381.47 L383.01,381.47 L391.81,381.48 L407.76,381.49 L414.96,381.5 L432.69,380.87 L445.3,380.88 L461.38,380.61 L480.77,380.62 L497.99,382.59 L504.14,382.5 L525.45,381.93 L543.2,381.94 L553.48,383.79 L575.01,383.81 L590.07,384.65 L606.46,384.66 L624.61,384.68 L646.23,384.69 L656.3,384.7"/>
<path d="M47,385.27 L62.4,385.19 L72.75,385.14 L92.8,385.03 L99.26,385 L115.17,384.92 L130.1,384.84 L148.26,385.28 L161.27,384.31 L173.07,384.25 L187.91,384.17 L194.79,384.14 L212.85,384.04 L231.43,383.38 L244.83,384.68 L254.11,384.32 L260.92,384.59 L276.59,384.51 L283.71,384.47 L298.08,384.4 L307.65,384.15 L319.52,384.09 L336.3,384.27 L346.44,384.22 L355.7,384.17 L373.48,384.08 L387.97,384 L409.75,383.89 L421.49,384.07 L429.55,382.47 L445.96,382.39 L466.7,382.28 L481.21,382.21 L492.34,381.2 L512.29,380.15 L533.97,380.03 L552.36,379.94 L573.86,380.7 L590.22,382.6 L601.63,382.55 L608.89,381.14 L627.51,381.05 L648.17,380.94 L655.63,380.9 L656.3,380.9"/>
<path d="M47,380.75 L55.29,380.52 L65.91,380.51 L72.69,380.5 L80.61,381.92 L90.12,381.91 L105.48,381.9 L117.08,382.09 L129.03,382.07 L148.13,381.31 L159.78,381.3 L175.71,380.91 L181.95,380.91 L189.06,380.82 L203.67,380.99 L214.66,380.98 L221.49,380.97 L234.68,380.14 L250.72,381.58 L260.26,381.57 L267.42,381.56 L288.81,380.14 L303.56,380.12 L311.84,380.57 L321.67,381.14 L341.57,381.12 L361.25,380.25 L376.85,380.23 L392.87,380.21 L402.61,378.93 L409.53,378.92 L416.91,378.91 L438.26,380.88 L454.24,380.29 L466.02,380.28 L473.09,378.73 L486.26,378.71 L495.97,378.7 L516.14,378.68 L534.97,378.66 L553.02,378.64 L564.65,378.63 L576.27,378.9 L584.09,378.89 L594.12,378.88 L613.06,378.86 L633.6,378.84 L650.68,378.82 L656.3,378.81"/>
<path d="M47,379.64 L63.57,379.64 L78.12,379.63 L88.92,379.63 L99.9,379.62 L116.08,378.68 L131.99,378.67 L148.87,378.66 L156.65,378.66 L178.23,379.35 L194.04,379.34 L208.13,379.33 L229.96,379.32 L242.91,379.32 L259.59,379.31 L281.56,378.46 L291.27,378.45 L312.06,378.77 L332.29,378.76 L347.68,378.75 L368.46,380.49 L379.12,380.49 L397.17,379.51 L417.66,379.5 L439.28,379.88 L457.11,379.87 L474.72,378.44 L483.49,379.01 L494.66,377.83 L511.62,377.82 L519.6,377.81 L541.28,377.8 L555.84,377.8 L562.22,377.79 L580.61,377.78 L592.09,377.78 L613.14,376.99 L629.38,376.98 L637.77,377.68 L656.3,377.67"/>
<path d="M47,381.48 L62.37,381.49 L69.83,380.91 L82.46,380.93 L91.19,381.61 L112.45,381.64 L133.15,382 L144.99,382.02 L160.57,382.04 L181.2,382.06 L189.4,382.07 L196.76,382.08 L206.35,382.1 L218.04,383.2 L226.06,382.75 L232.97,382.76 L250.43,382.8 L258.49,382.81 L265.98,382.28 L280.69,382.3 L301.53,382.33 L313.13,382.92 L325,381.56 L337.73,381.57 L350.74,381.59 L364.28,381.61 L374.37,381.62 L391.96,381.59 L402.01,381.19 L411.18,381.2 L417.83,380.71 L426.72,380.72 L443.7,380.74 L451.83,380.58 L465.97,380.6 L485.32,380.63 L491.6,380.6 L504.46,380.64 L512.5,380.65 L521.87,380.66 L530.66,380.67 L538.47,380.68 L547.99,382.77 L565.42,382.79 L577.1,382.8 L598.55,382.83 L608.18,382.75 L621.97,382.77 L643.94,382.79 L653.81,382.81 L656.3,381.67"/>
<path d="M47,390.64 L65.73,390.65 L82.32,392.06 L93.09,392.06 L107.72,392.07 L122.14,392.07 L141.5,392.08 L161.14,391.12 L172.28,390.66 L178.31,390.66 L197.39,390.67 L204.38,391.56 L215.08,391.03 L230.33,390.53 L245.23,390.54 L257.75,390.54 L267.84,390.55 L275.11,390.55 L289.83,391.63 L309.96,392.55 L331.3,392.56 L349.95,392.57 L365.02,392.58 L376.03,392.58 L394.55,392.59 L401.64,392.59 L418.93,390.44 L439.23,390.44 L456.64,390.45 L469.65,390.46 L477.15,390.46 L494.46,390.47 L515.71,390.48 L535.85,390.32 L546.52,390.32 L564.59,390.33 L585.16,390.34 L606.76,390.35 L624.56,390.25 L638.39,391.76 L650.35,390.12 L656.3,390.13"/>
<path d="M47,390.3 L55.52,390.89 L71.31,390.87 L85.41,390.85 L105.91,389.75 L124.62,389.73 L135.93,389.71 L146.66,389.7 L154.2,389.69 L171.63,389.66 L189.3,389.64 L205.26,389.19 L220.23,389.17 L233.65,389.59 L253.5,388.79 L269.43,387.92 L276.62,387.91 L296.73,387.89 L312.17,387.86 L331.74,388.18 L353.32,388.15 L369.57,388.13 L381.05,388.17 L390.75,388.16 L407.23,388.13 L427.81,387.75 L435.41,387.74 L456.03,387.71 L474.82,387.93 L493.6,389.26 L509.19,389.24 L515.65,389.23 L537.4,389.2 L547.86,389.19 L563.3,389.16 L577.04,389.15 L589.28,388.61 L598.91,388.59 L606.32,388.94 L628.15,388.91 L644.86,388.88 L654.16,388.87 L656.3,388.87"/>
<path d="M47,367.74 L54.85,367.23 L68.45,366.03 L76.4,366.02 L98.16,365.98 L106.34,367.77 L112.59,368.19 L134.02,368.16 L153.53,368.13 L171.27,368.1 L191.66,368.07 L209.86,368.04 L227.09,368.01 L242.26,367.99 L257.4,367.6 L277.34,367.57 L291.06,367.55 L309.16,368.1 L329.08,369.2 L341.99,369.18 L348.19,369.17 L359.05,368.99 L377.78,368.96 L398.34,367.64 L410.76,367.62 L428.57,367.59 L448.53,367.56 L466.37,367.53 L480.69,367.51 L500.35,367.48 L508.86,367.97 L527.91,368.73 L546.02,366.99 L562.55,366.96 L571.11,366.95 L580.56,366.93 L601.69,367.53 L616.48,367.51 L629.58,367.49 L639.31,367.47 L650.44,367.46 L656.3,367.45"/>
<path d="M47,367.62 L58.14,367.61 L70.77,368.68 L84.66,368.67 L91.24,367.42 L110.3,365.93 L122.34,365.93 L141.88,365.91 L151.72,365.9 L163.44,365.89 L179.99,366.35 L192.77,366.34 L207.65,366.33 L220.09,366.32 L239.32,366.31 L248.42,365.97 L269.63,365.96 L289.7,365.94 L306.89,365.93 L324.81,365.91 L346.05,365.89 L362.23,365.88 L378.31,366.61 L391.16,366.6 L409.55,366.43 L419.65,366.42 L433.5,366.41 L454.93,366.39 L474.68,366.37 L482.7,366.37 L490.04,366.36 L503.26,366.35 L524.91,366.33 L533.57,367.22 L547.82,367.21 L561.72,367.19 L578.56,367.18 L585.34,367.18 L595.34,367.17 L608.75,367.16 L630.18,367.14 L646.07,367.13 L653.88,367.12 L656.3,367.12"/>
<path d="M47,379.35 L57.24,379.31 L71.98,379.23 L78.33,379.2 L89.5,379.15 L105.87,379.07 L126.9,378.97 L138.83,378.92 L153.7,380.2 L163.31,379.8 L183.88,379.7 L202.94,379.61 L217.11,378.12 L230.2,378.06 L245.07,377.99 L263.86,377.9 L279.32,377.83 L299.83,377.73 L308.69,377.69 L325.52,377.61 L343.44,377.52 L360.54,377.44 L376.63,377.36 L396.88,377.27 L409.08,377.21 L425.75,377.31 L436.22,377.26 L444.9,376.51 L455.38,376.46 L475.19,376.37 L491.54,376.29 L503.79,376.23 L520.21,377.3 L540.95,377.2 L547.99,377.16 L557.58,377.43 L569.12,377.54 L583.71,377.47 L597.89,377.4 L616.33,377.32 L633.62,377.23 L647.15,377.17 L654.95,376.75 L656.3,378.11"/>
<path d="M47,372.09 L68.53,371.25 L84.68,371.21 L96.17,372.8 L109.25,372.77 L119.17,372.75 L126.86,372.73 L133.92,372.72 L145.12,372.69 L158.14,372.66 L164.61,373.92 L176.52,372.39 L188.33,372.37 L200.43,372.34 L214.03,372.31 L222.95,372.29 L238.18,372.26 L256.02,372.22 L265.43,372.2 L273.32,372.18 L285.99,372.15 L295.36,372.13 L306.2,372.11 L321.95,371.65 L330.07,371.63 L347.76,371.59 L368.79,371.35 L385.45,371.32 L406.56,371.27 L426.47,370.88 L443.61,370.84 L457.54,370.81 L475.69,370.77 L493.03,370.73 L500.83,370.71 L520.34,370.67 L530.11,370.65 L536.72,370.63 L547.56,370.61 L559.69,370.58 L572.63,370.56 L589.16,369.68 L598.96,369.66 L611.76,369.63 L629.99,369.59 L640.17,370.05 L646.28,370.04 L652.89,370.02 L656.3,370.02"/>
<path d="M47,391.69 L57.99,390.43 L67.84,390.44 L85.67,390.44 L105.8,390.01 L120.94,390.01 L139.59,390.02 L160.01,390.02 L177.05,390.02 L186.43,390.02 L207.52,390.07 L218.45,391.51 L234.82,392.24 L254.88,390.52 L270.5,390.52 L285.31,390.52 L297.81,390.52 L318.41,390.53 L336.35,390.53 L356.49,390.53 L370.63,390.53 L381.43,390.53 L397.67,391.02 L410.51,391.02 L421.04,391.02 L434.76,391.03 L444.92,391.03 L459.66,391.03 L472.61,391.03 L487.61,391.03 L499.43,391.03 L509.75,391.03 L519.97,390.85 L526.4,390.85 L533.92,390.86 L544.99,391.33 L555.66,391.33 L566.53,391.33 L573.19,392.7 L590.21,392.83 L601.97,392.83 L612.37,392.83 L628.75,392.84 L638.85,392.84 L653.92,392.84 L656.3,392.84"/>
</g>
<path d="M312,378.6 L336,380 L360,381.4 L374.6,383.4 L396.5,386 L418.4,389.9 L440.3,392.8 L455,395.6 L469.6,397.5 L484.2,398.9 L498.8,402.1 L506.1,405.8 L513.4,409.7 L528,413.8 L555,420.4 L567.5,425 L578,430.6 L587.1,434.6 L592.3,439.2 L602.9,442.1 L616,443.8 L629.1,445.5 L638.3,447.7 L651.5,449.7" fill="none" stroke="#7b8cf5" stroke-width="3" stroke-linejoin="round"/>
<path d="M182.8,378.2 L212.5,377.7 L217.8,376.8 L242.3,376.8 L245.8,378 L270,378.7 L313.8,379.7 L335.7,381.9 L360,384.1 L374.6,386.3 L389.2,389.2 L411.1,392.4 L433,395 L455,397.7 L469.6,399.9 L484.2,404.3 L495.9,410.1 L500.3,410.6 L507.6,413.8 L520.7,416.7 L539.7,421.8 L544.1,426.2 L550,429.4 L553.5,433.8 L558.8,439 L570,440.5 L580.5,443.1 L596.3,444.2 L606.8,446.4 L616,447.3 L629.1,447.3 L638.3,446.4 L651.5,446" fill="none" stroke="#f8c038" stroke-width="3" stroke-linejoin="round"/>
<path d="M47,378.7 L181,378.7 L195,379.8 L216,381.5 L238.8,383.3 L258,384.1 L270,384.8 L280,386.3 L299.2,387 L321.1,389.2 L343,392.8 L360,393.9 L368.8,394.7 L381.9,396.5 L389.2,398.7 L396,402.5 L403.8,406 L414,406.7 L421.3,410.4 L430,411.1 L437.4,414 L447.6,415.5 L455,416.7 L462.3,418.9 L469.6,423.3 L476.2,425.2 L479.1,436.4 L482.7,437.2 L495.9,435.7 L525.1,435.3 L530.9,437.2 L539.7,438.6 L550,443.4 L558.8,446.9 L570,447.1 L575.3,448.4 L580.5,452.3 L587.1,453.9 L593.7,454.6 L598.9,456.9 L605.5,457.9 L612,458.6 L620,457.9 L626.5,456.9 L634.4,455.2 L641,453.4 L652.1,453.4" fill="none" stroke="#1b2a6e" stroke-width="3.2" stroke-linejoin="round"/>
<path d="M148.94,382.30 L154.74,371.90 L160.54,382.30 Z" fill="#f48cb0"/>
<path d="M365.36,399.30 L371.16,388.90 L376.96,399.30 Z" fill="#f48cb0"/>
<path d="M473.57,407.10 L479.37,396.70 L485.17,407.10 Z" fill="#f48cb0"/>
<path d="M524.43,410.80 L530.23,400.40 L536.03,410.80 Z" fill="#f48cb0"/>
<path d="M578.53,417.90 L584.33,407.50 L590.13,417.90 Z" fill="#f48cb0"/>
<path d="M592.24,429.30 L598.04,418.90 L603.84,429.30 Z" fill="#f48cb0"/>
<path d="M599.82,433.30 L605.62,422.90 L611.41,433.30 Z" fill="#f48cb0"/>
<path d="M603.78,437.20 L609.58,426.80 L615.38,437.20 Z" fill="#f48cb0"/>
<path d="M607.03,440.40 L612.83,430.00 L618.63,440.40 Z" fill="#f48cb0"/>
<path d="M625.06,441.00 L630.86,430.60 L636.66,441.00 Z" fill="#f48cb0"/>
<path d="M650.31,452.10 L656.11,441.70 L661.91,452.10 Z" fill="#f48cb0"/>
<rect x="47" y="350.5" width="630.3" height="112.8" fill="none" stroke="#6a6a6a" stroke-width="1.1"/>
<line x1="47" y1="387.97" x2="52.5" y2="387.97" stroke="#444" stroke-width="1"/>
<line x1="47" y1="425.64" x2="52.5" y2="425.64" stroke="#444" stroke-width="1"/>
<line x1="82.60" y1="463.3" x2="82.60" y2="457" stroke="#444" stroke-width="1"/>
<line x1="154.74" y1="463.3" x2="154.74" y2="457" stroke="#444" stroke-width="1"/>
<line x1="226.88" y1="463.3" x2="226.88" y2="457" stroke="#444" stroke-width="1"/>
<line x1="299.02" y1="463.3" x2="299.02" y2="457" stroke="#444" stroke-width="1"/>
<line x1="371.16" y1="463.3" x2="371.16" y2="457" stroke="#444" stroke-width="1"/>
<line x1="443.30" y1="463.3" x2="443.30" y2="457" stroke="#444" stroke-width="1"/>
<line x1="515.44" y1="463.3" x2="515.44" y2="457" stroke="#444" stroke-width="1"/>
<line x1="587.58" y1="463.3" x2="587.58" y2="457" stroke="#444" stroke-width="1"/>
<line x1="659.72" y1="463.3" x2="659.72" y2="457" stroke="#444" stroke-width="1"/>
<rect x="59.5" y="405" width="307.5" height="51.3" fill="#fff" stroke="#333" stroke-width="1"/>
<line x1="64" y1="415.7" x2="111.5" y2="415.7" stroke="#1b2a6e" stroke-width="3.2"/>
<line x1="64" y1="430.4" x2="111.5" y2="430.4" stroke="#c8c8c8" stroke-width="1"/>
<line x1="64" y1="446.6" x2="111.5" y2="446.6" stroke="#7b8cf5" stroke-width="3"/>
<line x1="206" y1="415.2" x2="253.3" y2="415.2" stroke="#f8c038" stroke-width="3"/>
<path d="M224,434.4 L229.9,424 L235.8,434.4 Z" fill="#f48cb0"/>
<g font-size="11.2" fill="#000">
<text x="116.6" y="419.6">HadCRUT4-CW</text>
<text x="116.6" y="434.4">Synthetic noise</text>
<text x="116.6" y="450.6">ERA-20Cc</text>
<text x="257.4" y="419.4">Berkeley Earth</text>
<text x="257.4" y="433.6">Glacier observations</text>
</g>
<g font-size="12" fill="#000" text-anchor="end">
<text x="40" y="354.60">5</text>
<text x="40" y="392.27">4</text>
<text x="40" y="429.94">3</text>
<text x="40" y="467.61">2</text>
</g>
<g font-size="12" fill="#000" text-anchor="middle">
<text x="82.60" y="479.6">1860</text>
<text x="154.74" y="479.6">1880</text>
<text x="226.88" y="479.6">1900</text>
<text x="299.02" y="479.6">1920</text>
<text x="371.16" y="479.6">1940</text>
<text x="443.30" y="479.6">1960</text>
<text x="515.44" y="479.6">1980</text>
<text x="587.58" y="479.6">2000</text>
<text x="659.72" y="479.6">2020</text>
<text x="361.2" y="497.6" font-size="12.15">Time (yr)</text>
</g>
<text transform="translate(22.4,406.8) rotate(-90)" font-size="12.1" text-anchor="middle">Glacier length (km)</text>
<text x="-1.2" y="350.5" font-size="14.6" font-weight="bold">b</text>
</svg></body></html>
